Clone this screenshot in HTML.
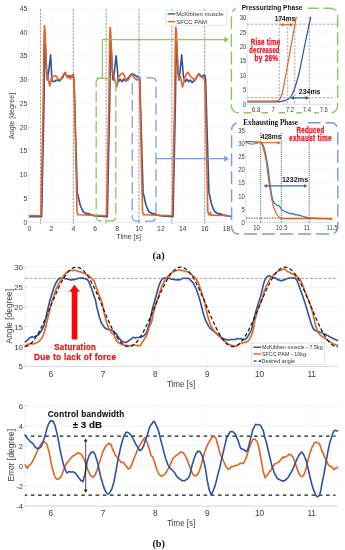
<!DOCTYPE html>
<html><head><meta charset="utf-8"><style>
html,body{margin:0;padding:0;background:#fff;}
svg{display:block;will-change:transform;}
svg{font-family:"Liberation Sans",sans-serif;}
</style></head><body>
<svg width="345" height="550" viewBox="0 0 345 550">
<rect width="345" height="550" fill="#fff"/>
<line x1="31" y1="222.3" x2="226.6" y2="222.3" stroke="#f6f6f6" stroke-width="0.6"/>
<line x1="28.8" y1="222.3" x2="31" y2="222.3" stroke="#c4c4c4" stroke-width="0.6"/>
<text x="27.3" y="224.75" font-size="6.8" fill="#3c3c3c" text-anchor="end">0</text>
<line x1="31" y1="198.53" x2="226.6" y2="198.53" stroke="#f6f6f6" stroke-width="0.6"/>
<line x1="28.8" y1="198.53" x2="31" y2="198.53" stroke="#c4c4c4" stroke-width="0.6"/>
<text x="27.3" y="200.97" font-size="6.8" fill="#3c3c3c" text-anchor="end">5</text>
<line x1="31" y1="174.75" x2="226.6" y2="174.75" stroke="#f6f6f6" stroke-width="0.6"/>
<line x1="28.8" y1="174.75" x2="31" y2="174.75" stroke="#c4c4c4" stroke-width="0.6"/>
<text x="27.3" y="177.2" font-size="6.8" fill="#3c3c3c" text-anchor="end">10</text>
<line x1="31" y1="150.98" x2="226.6" y2="150.98" stroke="#f6f6f6" stroke-width="0.6"/>
<line x1="28.8" y1="150.98" x2="31" y2="150.98" stroke="#c4c4c4" stroke-width="0.6"/>
<text x="27.3" y="153.43" font-size="6.8" fill="#3c3c3c" text-anchor="end">15</text>
<line x1="31" y1="127.2" x2="226.6" y2="127.2" stroke="#f6f6f6" stroke-width="0.6"/>
<line x1="28.8" y1="127.2" x2="31" y2="127.2" stroke="#c4c4c4" stroke-width="0.6"/>
<text x="27.3" y="129.65" font-size="6.8" fill="#3c3c3c" text-anchor="end">20</text>
<line x1="31" y1="103.43" x2="226.6" y2="103.43" stroke="#f6f6f6" stroke-width="0.6"/>
<line x1="28.8" y1="103.43" x2="31" y2="103.43" stroke="#c4c4c4" stroke-width="0.6"/>
<text x="27.3" y="105.88" font-size="6.8" fill="#3c3c3c" text-anchor="end">25</text>
<line x1="31" y1="79.65" x2="226.6" y2="79.65" stroke="#f6f6f6" stroke-width="0.6"/>
<line x1="28.8" y1="79.65" x2="31" y2="79.65" stroke="#c4c4c4" stroke-width="0.6"/>
<text x="27.3" y="82.1" font-size="6.8" fill="#3c3c3c" text-anchor="end">30</text>
<line x1="31" y1="55.88" x2="226.6" y2="55.88" stroke="#f6f6f6" stroke-width="0.6"/>
<line x1="28.8" y1="55.88" x2="31" y2="55.88" stroke="#c4c4c4" stroke-width="0.6"/>
<text x="27.3" y="58.33" font-size="6.8" fill="#3c3c3c" text-anchor="end">35</text>
<line x1="31" y1="32.1" x2="226.6" y2="32.1" stroke="#f6f6f6" stroke-width="0.6"/>
<line x1="28.8" y1="32.1" x2="31" y2="32.1" stroke="#c4c4c4" stroke-width="0.6"/>
<text x="27.3" y="34.55" font-size="6.8" fill="#3c3c3c" text-anchor="end">40</text>
<line x1="31" y1="8.33" x2="226.6" y2="8.33" stroke="#f6f6f6" stroke-width="0.6"/>
<line x1="28.8" y1="8.33" x2="31" y2="8.33" stroke="#c4c4c4" stroke-width="0.6"/>
<text x="27.3" y="10.78" font-size="6.8" fill="#3c3c3c" text-anchor="end">45</text>
<line x1="29.5" y1="8.33" x2="29.5" y2="222.3" stroke="#f6f6f6" stroke-width="0.6"/>
<text x="29.5" y="230.8" font-size="6.8" fill="#3c3c3c" text-anchor="middle">0</text>
<line x1="51.4" y1="8.33" x2="51.4" y2="222.3" stroke="#f6f6f6" stroke-width="0.6"/>
<text x="51.4" y="230.8" font-size="6.8" fill="#3c3c3c" text-anchor="middle">2</text>
<line x1="73.3" y1="8.33" x2="73.3" y2="222.3" stroke="#f6f6f6" stroke-width="0.6"/>
<text x="73.3" y="230.8" font-size="6.8" fill="#3c3c3c" text-anchor="middle">4</text>
<line x1="95.2" y1="8.33" x2="95.2" y2="222.3" stroke="#f6f6f6" stroke-width="0.6"/>
<text x="95.2" y="230.8" font-size="6.8" fill="#3c3c3c" text-anchor="middle">6</text>
<line x1="117.1" y1="8.33" x2="117.1" y2="222.3" stroke="#f6f6f6" stroke-width="0.6"/>
<text x="117.1" y="230.8" font-size="6.8" fill="#3c3c3c" text-anchor="middle">8</text>
<line x1="139" y1="8.33" x2="139" y2="222.3" stroke="#f6f6f6" stroke-width="0.6"/>
<text x="139" y="230.8" font-size="6.8" fill="#3c3c3c" text-anchor="middle">10</text>
<line x1="160.9" y1="8.33" x2="160.9" y2="222.3" stroke="#f6f6f6" stroke-width="0.6"/>
<text x="160.9" y="230.8" font-size="6.8" fill="#3c3c3c" text-anchor="middle">12</text>
<line x1="182.8" y1="8.33" x2="182.8" y2="222.3" stroke="#f6f6f6" stroke-width="0.6"/>
<text x="182.8" y="230.8" font-size="6.8" fill="#3c3c3c" text-anchor="middle">14</text>
<line x1="204.7" y1="8.33" x2="204.7" y2="222.3" stroke="#f6f6f6" stroke-width="0.6"/>
<text x="204.7" y="230.8" font-size="6.8" fill="#3c3c3c" text-anchor="middle">16</text>
<line x1="226.6" y1="8.33" x2="226.6" y2="222.3" stroke="#f6f6f6" stroke-width="0.6"/>
<text x="226.6" y="230.8" font-size="6.8" fill="#3c3c3c" text-anchor="middle">18</text>
<line x1="29.5" y1="222.3" x2="226.6" y2="222.3" stroke="#d9d9d9" stroke-width="0.6"/>
<line x1="28.6" y1="8.33" x2="28.6" y2="222.3" stroke="#e6e6e6" stroke-width="0.6"/>
<text x="116.60" y="239.20" font-family='"Liberation Sans",sans-serif' font-weight="normal" font-size="6.9" fill="#3c3c3c" textLength="24.29" lengthAdjust="spacingAndGlyphs" >Time [s]</text>
<text transform="translate(14.2,115.9) rotate(-90)" font-size="7.1" fill="#3c3c3c" text-anchor="middle">Angle [degree]</text>
<line x1="40.45" y1="8.83" x2="40.45" y2="223.8" stroke="#959595" stroke-width="0.95" stroke-dasharray="2.3 1.2"/>
<line x1="73.3" y1="8.83" x2="73.3" y2="223.8" stroke="#959595" stroke-width="0.95" stroke-dasharray="2.3 1.2"/>
<line x1="106.15" y1="8.83" x2="106.15" y2="223.8" stroke="#959595" stroke-width="0.95" stroke-dasharray="2.3 1.2"/>
<line x1="139" y1="8.83" x2="139" y2="223.8" stroke="#959595" stroke-width="0.95" stroke-dasharray="2.3 1.2"/>
<line x1="171.85" y1="8.83" x2="171.85" y2="223.8" stroke="#959595" stroke-width="0.95" stroke-dasharray="2.3 1.2"/>
<line x1="204.7" y1="8.83" x2="204.7" y2="223.8" stroke="#959595" stroke-width="0.95" stroke-dasharray="2.3 1.2"/>
<path d="M29.5 216.8 L41.65 216.8 L44.05 100 L44.75 46 L45.15 41 L46.65 72 L47.35 80 L47.7 78 L48.6 72 L50.6 54.8 L52 80.9 L54.1 81.7 L56.7 80 L59.3 80.9 L62.8 77.4 L64.9 73 L66.3 74.8 L68 76.5 L69.8 75.7 L71.5 76.5 L73.3 77.4 L74 79 L77.3 193.3 L78 195 L79 200 L80.2 205 L82 209.5 L83.5 212 L85.5 213 L87 214 L89 213.6 L91 215 L94 215.6 L99 216.3 L107.35 216.8 L109.75 100 L110.45 46 L110.85 41 L112.35 72 L113.05 80 L113.4 78 L114.3 72 L116.1 55.7 L118.4 81.7 L120.1 79.1 L121.9 81.7 L123.6 79.1 L125.3 80.9 L127.1 79.1 L128.8 77.4 L130.6 74.8 L132.3 73.9 L134 74.8 L135.8 75.7 L137.5 76.5 L139.3 77.4 L139.8 79 L143.1 193.3 L143.8 195 L144.8 200 L146 205 L147.8 209.5 L149.3 212 L151.3 213 L152.8 214 L154.8 213.6 L156.8 215 L159.8 215.6 L164.8 216.3 L173.05 216.8 L175.45 100 L176.15 46 L176.55 41 L178.05 72 L178.75 80 L179.1 78 L180 72 L181.7 54.8 L183.4 76.5 L185.1 81.7 L186.9 79.1 L188.6 81.7 L190.3 80 L192.1 82.6 L193.8 80.9 L195.6 79.1 L197.3 75.7 L199 73.9 L200.8 75.7 L202.5 76.5 L204.3 74.8 L205.1 76.5 L205.6 79 L208.9 193.3 L209.6 195 L210.6 200 L211.8 205 L213.6 209.5 L215.1 212 L217.1 213 L218.6 214 L220.6 213.6 L222.6 215 L225.6 215.6 L226.6 215.8 L230.6 216.3" fill="none" stroke="#2c52a0" stroke-width="1.6" stroke-linejoin="round" stroke-linecap="round" />
<path d="M29.5 215.6 L40.9 215.8 L43.2 100 L43.95 39.8 L44.45 25.8 L45.05 31.8 L46.45 68 L47.5 76.5 L49.8 86 L51.5 77.4 L55 75.7 L56.7 76.5 L58.5 80 L61 79 L62.8 75.7 L65.4 72.2 L67.2 77.4 L69 77.4 L70.7 79 L72.4 74.8 L73.6 74.5 L74.2 84 L77 211.5 L77.9 214.6 L79.1 214.8 L106.6 215.8 L108.9 100 L109.65 41.4 L110.15 27.4 L110.75 33.4 L112.15 68 L114 77.4 L116.7 87 L118.4 77.4 L121 73.9 L122.7 73 L124.5 75.7 L126.2 80.9 L128 80 L129.7 77.4 L131.4 73.9 L133.2 76.5 L134.9 78.3 L136.7 80 L138.4 79.1 L139.1 78 L139.7 84 L142.5 211.5 L143.4 214.6 L144.6 214.8 L172.3 215.8 L174.6 100 L175.35 41.2 L175.85 27.2 L176.45 33.2 L177.85 68 L179 80 L180.3 76.5 L182.5 87 L185.1 76.5 L187.7 72.2 L189.5 74.8 L191.2 77.4 L193 78.3 L194.7 80.9 L196.4 77.4 L198.2 74.8 L199.9 75.7 L201.7 77.4 L203.4 78.3 L204.4 79 L205 84 L207.8 211.5 L208.7 214.6 L209.9 214.8 L210.4 212.3 L211 215.2 L226.6 215.4" fill="none" stroke="#e2621f" stroke-width="1.6" stroke-linejoin="round" stroke-linecap="round" />
<rect x="165.7" y="10.3" width="61" height="15.3" fill="#fff" stroke="#d9d9d9" stroke-width="0.6"/>
<line x1="167.6" y1="13.9" x2="175.3" y2="13.9" stroke="#2c52a0" stroke-width="1.4"/>
<line x1="167.6" y1="21.6" x2="175.3" y2="21.6" stroke="#e2621f" stroke-width="1.4"/>
<text x="176.30" y="16.30" font-family='"Liberation Sans",sans-serif' font-weight="normal" font-size="6.2" fill="#303030" textLength="47.21" lengthAdjust="spacingAndGlyphs" >McKibben muscle</text>
<text x="176.30" y="24.40" font-family='"Liberation Sans",sans-serif' font-weight="normal" font-size="6.2" fill="#303030" textLength="30.69" lengthAdjust="spacingAndGlyphs" >SFCC PAM</text>
<path d="M96.3 78.2 L102.4 78.2 L102.4 39.6 L226 39.6" fill="none" stroke="#8cc46c" stroke-width="1.2"/>
<path d="M224.3 36.4 L228.8 39.6 L224.3 42.8 Z" fill="#8cc46c"/>
<rect x="96.2" y="78.4" width="19.6" height="142.4" rx="3.5" fill="none" stroke="#8cc46c" stroke-width="1.25" stroke-dasharray="11.5 3.8" stroke-dashoffset="14.3"/>
<rect x="132.2" y="77.9" width="23.8" height="143.1" rx="4" fill="none" stroke="#7b9bd4" stroke-width="1.25" stroke-dasharray="11.5 5" stroke-dashoffset="6.3"/>
<path d="M156 158.7 L226 158.7" fill="none" stroke="#7b9bd4" stroke-width="1.2"/>
<path d="M224.3 155.6 L228.8 158.7 L224.3 161.8 Z" fill="#7b9bd4"/>
<rect x="231.4" y="8.3" width="106.2" height="104.5" rx="7" fill="none" stroke="#8cc46c" stroke-width="1.4" stroke-dasharray="13 4.6" stroke-dashoffset="3"/>
<rect x="236" y="3" width="72" height="9" fill="#fff"/>
<text x="241.70" y="10.40" font-family='"Liberation Sans",sans-serif' font-weight="bold" font-size="7.0" fill="#141414" textLength="60.81" lengthAdjust="spacingAndGlyphs" >Pressurizing Phase</text>
<line x1="247.2" y1="104.35" x2="331.5" y2="104.35" stroke="#f0f0f0" stroke-width="0.5"/>
<text x="243.02" y="106.75" font-size="6.7" fill="#3c3c3c" textLength="3.28" lengthAdjust="spacingAndGlyphs">0</text>
<line x1="247.2" y1="89.9" x2="331.5" y2="89.9" stroke="#f0f0f0" stroke-width="0.5"/>
<text x="243.02" y="92.30" font-size="6.7" fill="#3c3c3c" textLength="3.28" lengthAdjust="spacingAndGlyphs">5</text>
<line x1="247.2" y1="75.45" x2="331.5" y2="75.45" stroke="#f0f0f0" stroke-width="0.5"/>
<text x="239.74" y="77.85" font-size="6.7" fill="#3c3c3c" textLength="6.56" lengthAdjust="spacingAndGlyphs">10</text>
<line x1="247.2" y1="61" x2="331.5" y2="61" stroke="#f0f0f0" stroke-width="0.5"/>
<text x="239.74" y="63.40" font-size="6.7" fill="#3c3c3c" textLength="6.56" lengthAdjust="spacingAndGlyphs">15</text>
<line x1="247.2" y1="46.55" x2="331.5" y2="46.55" stroke="#f0f0f0" stroke-width="0.5"/>
<text x="239.74" y="48.95" font-size="6.7" fill="#3c3c3c" textLength="6.56" lengthAdjust="spacingAndGlyphs">20</text>
<line x1="247.2" y1="32.1" x2="331.5" y2="32.1" stroke="#f0f0f0" stroke-width="0.5"/>
<text x="239.74" y="34.50" font-size="6.7" fill="#3c3c3c" textLength="6.56" lengthAdjust="spacingAndGlyphs">25</text>
<line x1="247.2" y1="17.65" x2="331.5" y2="17.65" stroke="#f0f0f0" stroke-width="0.5"/>
<text x="239.74" y="20.05" font-size="6.7" fill="#3c3c3c" textLength="6.56" lengthAdjust="spacingAndGlyphs">30</text>
<rect x="251.2" y="106.2" width="10" height="8" fill="#fff"/>
<text x="252.10" y="112.40" font-size="6.7" fill="#3c3c3c" textLength="8.20" lengthAdjust="spacingAndGlyphs">6.8</text>
<rect x="268.1" y="106.2" width="10" height="8" fill="#fff"/>
<text x="271.46" y="112.40" font-size="6.7" fill="#3c3c3c" textLength="3.28" lengthAdjust="spacingAndGlyphs">7</text>
<rect x="285" y="106.2" width="10" height="8" fill="#fff"/>
<text x="285.90" y="112.40" font-size="6.7" fill="#3c3c3c" textLength="8.20" lengthAdjust="spacingAndGlyphs">7.2</text>
<rect x="301.9" y="106.2" width="10" height="8" fill="#fff"/>
<text x="302.80" y="112.40" font-size="6.7" fill="#3c3c3c" textLength="8.20" lengthAdjust="spacingAndGlyphs">7.4</text>
<rect x="318.8" y="106.2" width="10" height="8" fill="#fff"/>
<text x="319.70" y="112.40" font-size="6.7" fill="#3c3c3c" textLength="8.20" lengthAdjust="spacingAndGlyphs">7.6</text>
<line x1="247.2" y1="104.2" x2="331.5" y2="104.2" stroke="#c8c8c8" stroke-width="0.6"/>
<line x1="247.2" y1="15" x2="247.2" y2="104.2" stroke="#d0d0d0" stroke-width="0.6"/>
<line x1="279.2" y1="17" x2="279.2" y2="104.2" stroke="#8a8a8a" stroke-width="0.8" stroke-dasharray="2 1.5"/>
<line x1="287.7" y1="17" x2="287.7" y2="104.2" stroke="#8a8a8a" stroke-width="0.8" stroke-dasharray="2 1.5"/>
<line x1="294.8" y1="17" x2="294.8" y2="104.2" stroke="#8a8a8a" stroke-width="0.8" stroke-dasharray="2 1.5"/>
<line x1="309.3" y1="17" x2="309.3" y2="104.2" stroke="#8a8a8a" stroke-width="0.8" stroke-dasharray="2 1.5"/>
<line x1="247.2" y1="24.2" x2="337" y2="24.2" stroke="#8a8a8a" stroke-width="0.8" stroke-dasharray="2.4 1.6"/>
<line x1="247.2" y1="97.7" x2="333" y2="97.7" stroke="#8a8a8a" stroke-width="0.8" stroke-dasharray="2.4 1.6"/>
<path d="M247.6 101.8 C249.67 101.82 255.93 101.88 260 101.9 C264.07 101.92 268.67 101.95 272 101.9 C275.33 101.85 278 101.78 280 101.6 C282 101.42 282.67 101.18 284 100.8 C285.33 100.42 286.83 100.02 288 99.3 C289.17 98.58 290 98.05 291 96.5 C292 94.95 293 92.58 294 90 C295 87.42 296.03 84.33 297 81 C297.97 77.67 298.47 76.17 299.8 70 C301.13 63.83 303.18 52.77 305 44 C306.82 35.23 309.75 21.83 310.7 17.4" fill="none" stroke="#2c52a0" stroke-width="1.2" stroke-linejoin="round" stroke-linecap="round" />
<path d="M247.6 101 C249.67 101.02 256.27 101.07 260 101.1 C263.73 101.13 267.33 101.23 270 101.2 C272.67 101.17 274.58 101.07 276 100.9 C277.42 100.73 277.75 100.68 278.5 100.2 C279.25 99.72 279.83 99.37 280.5 98 C281.17 96.63 281.83 94.67 282.5 92 C283.17 89.33 283.8 85.67 284.5 82 C285.2 78.33 285.52 76.5 286.7 70 C287.88 63.5 290.02 51.77 291.6 43 C293.18 34.23 295.43 21.67 296.2 17.4" fill="none" stroke="#e2621f" stroke-width="1.2" stroke-linejoin="round" stroke-linecap="round" />
<line x1="282" y1="24.8" x2="291.5" y2="24.8" stroke="#e2621f" stroke-width="1.1"/>
<path d="M279.8 24.8 L283.4 23 L283.4 26.6 Z M293.6 24.8 L290 23 L290 26.6 Z" fill="#e2621f"/>
<text x="274.80" y="20.80" font-family='"Liberation Sans",sans-serif' font-weight="bold" font-size="7.0" fill="#141414" textLength="20.39" lengthAdjust="spacingAndGlyphs" >174ms</text>
<line x1="292.5" y1="97.9" x2="307" y2="97.9" stroke="#2c52a0" stroke-width="1.1"/>
<path d="M290.3 97.9 L293.9 96.1 L293.9 99.7 Z M309.2 97.9 L305.6 96.1 L305.6 99.7 Z" fill="#2c52a0"/>
<text x="298.80" y="93.80" font-family='"Liberation Sans",sans-serif' font-weight="bold" font-size="7.0" fill="#141414" textLength="21.69" lengthAdjust="spacingAndGlyphs" >234ms</text>
<text transform="translate(250.70,44.90) scale(0.7375,1)" x="0" y="0" font-family='"Liberation Sans",sans-serif' font-weight="bold" font-size="8.4" letter-spacing="0.350" fill="#e31b23" stroke="#e31b23" stroke-width="0.3">Rise time</text>
<text transform="translate(249.30,53.30) scale(0.676,1)" x="0" y="0" font-family='"Liberation Sans",sans-serif' font-weight="bold" font-size="8.4" letter-spacing="0.350" fill="#e31b23" stroke="#e31b23" stroke-width="0.3">decreased</text>
<text transform="translate(254.60,61.00) scale(0.7625,1)" x="0" y="0" font-family='"Liberation Sans",sans-serif' font-weight="bold" font-size="8.4" letter-spacing="0.350" fill="#e31b23" stroke="#e31b23" stroke-width="0.3">by 26%</text>
<rect x="231.6" y="122.8" width="106.2" height="111.2" rx="7" fill="none" stroke="#7b9bd4" stroke-width="1.4" stroke-dasharray="13 5" stroke-dashoffset="3"/>
<rect x="236.5" y="117" width="71.5" height="9.5" fill="#fff"/>
<text x="243.30" y="124.50" font-family='"Liberation Serif",serif' font-weight="bold" font-size="7.6" fill="#141414" textLength="54.60" lengthAdjust="spacingAndGlyphs" >Exhausting Phase</text>
<line x1="245.9" y1="222.6" x2="331.8" y2="222.6" stroke="#f0f0f0" stroke-width="0.5"/>
<text x="241.62" y="225.00" font-size="6.7" fill="#3c3c3c" textLength="3.28" lengthAdjust="spacingAndGlyphs">0</text>
<line x1="245.9" y1="209.43" x2="331.8" y2="209.43" stroke="#f0f0f0" stroke-width="0.5"/>
<text x="241.62" y="211.83" font-size="6.7" fill="#3c3c3c" textLength="3.28" lengthAdjust="spacingAndGlyphs">5</text>
<line x1="245.9" y1="196.26" x2="331.8" y2="196.26" stroke="#f0f0f0" stroke-width="0.5"/>
<text x="238.34" y="198.66" font-size="6.7" fill="#3c3c3c" textLength="6.56" lengthAdjust="spacingAndGlyphs">10</text>
<line x1="245.9" y1="183.09" x2="331.8" y2="183.09" stroke="#f0f0f0" stroke-width="0.5"/>
<text x="238.34" y="185.49" font-size="6.7" fill="#3c3c3c" textLength="6.56" lengthAdjust="spacingAndGlyphs">15</text>
<line x1="245.9" y1="169.92" x2="331.8" y2="169.92" stroke="#f0f0f0" stroke-width="0.5"/>
<text x="238.34" y="172.32" font-size="6.7" fill="#3c3c3c" textLength="6.56" lengthAdjust="spacingAndGlyphs">20</text>
<line x1="245.9" y1="156.75" x2="331.8" y2="156.75" stroke="#f0f0f0" stroke-width="0.5"/>
<text x="238.34" y="159.15" font-size="6.7" fill="#3c3c3c" textLength="6.56" lengthAdjust="spacingAndGlyphs">25</text>
<line x1="245.9" y1="143.58" x2="331.8" y2="143.58" stroke="#f0f0f0" stroke-width="0.5"/>
<text x="238.34" y="145.98" font-size="6.7" fill="#3c3c3c" textLength="6.56" lengthAdjust="spacingAndGlyphs">30</text>
<line x1="245.9" y1="130.41" x2="331.8" y2="130.41" stroke="#f0f0f0" stroke-width="0.5"/>
<text x="238.34" y="132.81" font-size="6.7" fill="#3c3c3c" textLength="6.56" lengthAdjust="spacingAndGlyphs">35</text>
<text x="253.22" y="230.40" font-size="6.7" fill="#3c3c3c" textLength="6.56" lengthAdjust="spacingAndGlyphs">10</text>
<text x="275.96" y="230.40" font-size="6.7" fill="#3c3c3c" textLength="11.48" lengthAdjust="spacingAndGlyphs">10.5</text>
<text x="303.84" y="230.40" font-size="6.7" fill="#3c3c3c" textLength="6.12" lengthAdjust="spacingAndGlyphs">11</text>
<text x="326.58" y="230.40" font-size="6.7" fill="#3c3c3c" textLength="11.05" lengthAdjust="spacingAndGlyphs">11.5</text>
<line x1="245.9" y1="222.4" x2="331.8" y2="222.4" stroke="#c8c8c8" stroke-width="0.6"/>
<line x1="245.9" y1="128" x2="245.9" y2="222.4" stroke="#d0d0d0" stroke-width="0.6"/>
<line x1="260.7" y1="133" x2="260.7" y2="223.5" stroke="#222" stroke-width="0.8" stroke-dasharray="1 1.1"/>
<line x1="281.3" y1="133" x2="281.3" y2="223.5" stroke="#222" stroke-width="0.8" stroke-dasharray="1 1.1"/>
<line x1="309.2" y1="133" x2="309.2" y2="223.5" stroke="#222" stroke-width="0.8" stroke-dasharray="1 1.1"/>
<line x1="245.9" y1="218.1" x2="331" y2="218.1" stroke="#222" stroke-width="0.8" stroke-dasharray="1.4 1.2"/>
<path d="M245.9 141.6 C246.92 141.6 249.98 141.5 252 141.6 C254.02 141.7 256.55 142.07 258 142.2 C259.45 142.33 259.87 141.93 260.7 142.4 C261.53 142.87 262.28 143.52 263 145 C263.72 146.48 264.42 148.97 265 151.3 C265.58 153.63 266 156.27 266.5 159 C267 161.73 267.42 163.53 268 167.7 C268.58 171.87 269.33 179.12 270 184 C270.67 188.88 271.42 194.08 272 197 C272.58 199.92 273 200.4 273.5 201.5 C274 202.6 274.42 202.93 275 203.6 C275.58 204.27 276.42 205.18 277 205.5 C277.58 205.82 278 205.27 278.5 205.5 C279 205.73 279.5 206.28 280 206.9 C280.5 207.52 281 208.6 281.5 209.2 C282 209.8 282.08 209.98 283 210.5 C283.92 211.02 285.83 211.82 287 212.3 C288.17 212.78 288.67 213.03 290 213.4 C291.33 213.77 293.33 214.15 295 214.5 C296.67 214.85 298.33 215.08 300 215.5 C301.67 215.92 303.33 216.58 305 217 C306.67 217.42 307.5 217.75 310 218 C312.5 218.25 316.37 218.33 320 218.5 C323.63 218.67 329.83 218.92 331.8 219" fill="none" stroke="#1f7ccc" stroke-width="1.3" stroke-linejoin="round" stroke-linecap="round" />
<path d="M245.9 142.6 C246.42 142.77 247.98 143.33 249 143.6 C250.02 143.87 250.83 144.22 252 144.2 C253.17 144.18 254.75 143.82 256 143.5 C257.25 143.18 258.58 142.3 259.5 142.3 C260.42 142.3 260.92 142.72 261.5 143.5 C262.08 144.28 262.5 145.42 263 147 C263.5 148.58 264 150.83 264.5 153 C265 155.17 265.42 156.33 266 160 C266.58 163.67 267.33 170.17 268 175 C268.67 179.83 269.5 185.67 270 189 C270.5 192.33 270.5 192.33 271 195 C271.5 197.67 272.42 202.58 273 205 C273.58 207.42 274 208.17 274.5 209.5 C275 210.83 275.42 211.92 276 213 C276.58 214.08 277.42 215.25 278 216 C278.58 216.75 279 217.08 279.5 217.5 C280 217.92 279.25 218.32 281 218.5 C282.75 218.68 281.53 218.58 290 218.6 C298.47 218.62 324.83 218.6 331.8 218.6" fill="none" stroke="#e2621f" stroke-width="1.2" stroke-linejoin="round" stroke-linecap="round" />
<line x1="262" y1="142.7" x2="278.5" y2="142.7" stroke="#e2621f" stroke-width="1.1"/>
<path d="M281 142.7 L277.4 140.9 L277.4 144.5 Z" fill="#e2621f"/>
<text x="260.70" y="138.50" font-family='"Liberation Sans",sans-serif' font-weight="bold" font-size="7.0" fill="#141414" textLength="20.79" lengthAdjust="spacingAndGlyphs" >428ms</text>
<line x1="265.5" y1="185.9" x2="305.5" y2="185.9" stroke="#3a68b8" stroke-width="1.2"/>
<path d="M263.3 185.9 L266.9 184.1 L266.9 187.7 Z M307.6 185.9 L304 184.1 L304 187.7 Z" fill="#3a68b8"/>
<text x="281.90" y="182.00" font-family='"Liberation Sans",sans-serif' font-weight="bold" font-size="7.0" fill="#141414" textLength="26.30" lengthAdjust="spacingAndGlyphs" >1232ms</text>
<text transform="translate(296.60,132.90) scale(0.7369,1)" x="0" y="0" font-family='"Liberation Sans",sans-serif' font-weight="bold" font-size="8.4" letter-spacing="0.350" fill="#e31b23" stroke="#e31b23" stroke-width="0.3">Reduced</text>
<text transform="translate(289.00,141.20) scale(0.7751,1)" x="0" y="0" font-family='"Liberation Sans",sans-serif' font-weight="bold" font-size="8.4" letter-spacing="0.350" fill="#e31b23" stroke="#e31b23" stroke-width="0.3">exhaust time</text>
<text x="152.50" y="259.20" font-family='"Liberation Serif",serif' font-weight="bold" font-size="10" fill="#141414" textLength="12.11" lengthAdjust="spacingAndGlyphs" >(a)</text>
<line x1="24.82" y1="366.4" x2="337.78" y2="366.4" stroke="#ebebeb" stroke-width="0.6"/>
<line x1="24.82" y1="366.4" x2="27.22" y2="366.4" stroke="#bfbfbf" stroke-width="0.6"/>
<text x="23" y="369.4" font-size="7.9" fill="#3c3c3c" text-anchor="end">5</text>
<line x1="24.82" y1="346.54" x2="337.78" y2="346.54" stroke="#ebebeb" stroke-width="0.6"/>
<line x1="24.82" y1="346.54" x2="27.22" y2="346.54" stroke="#bfbfbf" stroke-width="0.6"/>
<text x="23" y="349.54" font-size="7.9" fill="#3c3c3c" text-anchor="end">10</text>
<line x1="24.82" y1="326.68" x2="337.78" y2="326.68" stroke="#ebebeb" stroke-width="0.6"/>
<line x1="24.82" y1="326.68" x2="27.22" y2="326.68" stroke="#bfbfbf" stroke-width="0.6"/>
<text x="23" y="329.68" font-size="7.9" fill="#3c3c3c" text-anchor="end">15</text>
<line x1="24.82" y1="306.82" x2="337.78" y2="306.82" stroke="#ebebeb" stroke-width="0.6"/>
<line x1="24.82" y1="306.82" x2="27.22" y2="306.82" stroke="#bfbfbf" stroke-width="0.6"/>
<text x="23" y="309.82" font-size="7.9" fill="#3c3c3c" text-anchor="end">20</text>
<line x1="24.82" y1="286.96" x2="337.78" y2="286.96" stroke="#ebebeb" stroke-width="0.6"/>
<line x1="24.82" y1="286.96" x2="27.22" y2="286.96" stroke="#bfbfbf" stroke-width="0.6"/>
<text x="23" y="289.96" font-size="7.9" fill="#3c3c3c" text-anchor="end">25</text>
<line x1="24.82" y1="267.1" x2="337.78" y2="267.1" stroke="#ebebeb" stroke-width="0.6"/>
<line x1="24.82" y1="267.1" x2="27.22" y2="267.1" stroke="#bfbfbf" stroke-width="0.6"/>
<text x="23" y="270.1" font-size="7.9" fill="#3c3c3c" text-anchor="end">30</text>
<line x1="50.9" y1="267.1" x2="50.9" y2="366.4" stroke="#f3f3f3" stroke-width="0.6"/>
<line x1="50.9" y1="366.4" x2="50.9" y2="368.4" stroke="#d8d8d8" stroke-width="0.6"/>
<text x="50.9" y="376.6" font-size="8.3" fill="#3c3c3c" text-anchor="middle">6</text>
<line x1="103.06" y1="267.1" x2="103.06" y2="366.4" stroke="#f3f3f3" stroke-width="0.6"/>
<line x1="103.06" y1="366.4" x2="103.06" y2="368.4" stroke="#d8d8d8" stroke-width="0.6"/>
<text x="103.06" y="376.6" font-size="8.3" fill="#3c3c3c" text-anchor="middle">7</text>
<line x1="155.22" y1="267.1" x2="155.22" y2="366.4" stroke="#f3f3f3" stroke-width="0.6"/>
<line x1="155.22" y1="366.4" x2="155.22" y2="368.4" stroke="#d8d8d8" stroke-width="0.6"/>
<text x="155.22" y="376.6" font-size="8.3" fill="#3c3c3c" text-anchor="middle">8</text>
<line x1="207.38" y1="267.1" x2="207.38" y2="366.4" stroke="#f3f3f3" stroke-width="0.6"/>
<line x1="207.38" y1="366.4" x2="207.38" y2="368.4" stroke="#d8d8d8" stroke-width="0.6"/>
<text x="207.38" y="376.6" font-size="8.3" fill="#3c3c3c" text-anchor="middle">9</text>
<line x1="259.54" y1="267.1" x2="259.54" y2="366.4" stroke="#f3f3f3" stroke-width="0.6"/>
<line x1="259.54" y1="366.4" x2="259.54" y2="368.4" stroke="#d8d8d8" stroke-width="0.6"/>
<text x="259.54" y="376.6" font-size="8.3" fill="#3c3c3c" text-anchor="middle">10</text>
<line x1="311.7" y1="267.1" x2="311.7" y2="366.4" stroke="#f3f3f3" stroke-width="0.6"/>
<line x1="311.7" y1="366.4" x2="311.7" y2="368.4" stroke="#d8d8d8" stroke-width="0.6"/>
<text x="311.7" y="376.6" font-size="8.3" fill="#3c3c3c" text-anchor="middle">11</text>
<line x1="24.82" y1="267.1" x2="24.82" y2="366.4" stroke="#e0e0e0" stroke-width="0.6"/>
<line x1="24.82" y1="366.4" x2="337.78" y2="366.4" stroke="#d0d0d0" stroke-width="0.7"/>
<text x="166.90" y="386.80" font-family='"Liberation Sans",sans-serif' font-weight="normal" font-size="8.6" fill="#3c3c3c" textLength="28.29" lengthAdjust="spacingAndGlyphs" >Time [s]</text>
<text transform="translate(12.0,316.2) rotate(-90)" font-size="8.4" fill="#3c3c3c" text-anchor="middle">Angle [degree]</text>
<line x1="24.82" y1="278.4" x2="337.78" y2="278.4" stroke="#9a9a9a" stroke-width="0.9" stroke-dasharray="3 1.6"/>
<path d="M25.2 341.81 C25.5 341.6 26.53 340.87 27 340.53 C27.47 340.18 27.67 340.09 28 339.74 C28.33 339.39 28.67 338.77 29 338.42 C29.33 338.07 29.67 337.83 30 337.62 C30.33 337.4 30.67 337.31 31 337.13 C31.33 336.96 31.67 336.59 32 336.58 C32.33 336.57 32.67 336.97 33 337.05 C33.33 337.14 33.67 337.14 34 337.07 C34.33 337 34.67 336.83 35 336.62 C35.33 336.4 35.67 335.98 36 335.78 C36.33 335.59 36.67 335.53 37 335.45 C37.33 335.36 37.67 335.45 38 335.26 C38.33 335.07 38.67 334.72 39 334.31 C39.33 333.91 39.67 333.31 40 332.81 C40.33 332.31 40.67 331.79 41 331.31 C41.33 330.84 41.67 330.55 42 329.96 C42.33 329.37 42.67 328.56 43 327.77 C43.33 326.99 43.67 326.32 44 325.24 C44.33 324.16 44.67 322.55 45 321.3 C45.33 320.05 45.67 319.18 46 317.74 C46.33 316.29 46.67 314.18 47 312.62 C47.33 311.06 47.67 309.78 48 308.38 C48.33 306.98 48.67 305.59 49 304.24 C49.33 302.9 49.67 301.55 50 300.32 C50.33 299.09 50.67 298 51 296.86 C51.33 295.72 51.67 294.54 52 293.5 C52.33 292.47 52.67 291.7 53 290.66 C53.33 289.61 53.67 288.16 54 287.24 C54.33 286.32 54.67 285.87 55 285.14 C55.33 284.41 55.67 283.53 56 282.87 C56.33 282.21 56.67 281.71 57 281.19 C57.33 280.66 57.67 280.13 58 279.72 C58.33 279.31 58.67 279.02 59 278.73 C59.33 278.44 59.67 278.09 60 277.98 C60.33 277.87 60.67 278 61 278.05 C61.33 278.1 61.67 278.27 62 278.29 C62.33 278.31 62.67 278.16 63 278.16 C63.33 278.17 63.67 278.23 64 278.31 C64.33 278.39 64.67 278.56 65 278.64 C65.33 278.72 65.67 278.73 66 278.78 C66.33 278.82 66.67 278.8 67 278.9 C67.33 278.99 67.67 279.25 68 279.35 C68.33 279.45 68.67 279.46 69 279.5 C69.33 279.54 69.67 279.48 70 279.57 C70.33 279.66 70.67 280 71 280.04 C71.33 280.08 71.67 279.85 72 279.81 C72.33 279.77 72.67 279.82 73 279.79 C73.33 279.75 73.67 279.7 74 279.61 C74.33 279.53 74.67 279.34 75 279.29 C75.33 279.25 75.67 279.45 76 279.34 C76.33 279.23 76.67 278.76 77 278.61 C77.33 278.46 77.67 278.51 78 278.46 C78.33 278.41 78.67 278.42 79 278.33 C79.33 278.24 79.67 277.98 80 277.93 C80.33 277.87 80.67 278 81 277.99 C81.33 277.99 81.67 277.82 82 277.87 C82.33 277.92 82.67 278.18 83 278.28 C83.33 278.39 83.67 278.44 84 278.48 C84.33 278.52 84.67 278.43 85 278.54 C85.33 278.65 85.67 279.01 86 279.14 C86.33 279.27 86.58 278.96 87 279.31 C87.42 279.65 88 280.31 88.5 281.2 C89 282.09 89.58 283.64 90 284.65 C90.42 285.65 90.67 286.38 91 287.24 C91.33 288.1 91.67 288.84 92 289.78 C92.33 290.72 92.67 291.86 93 292.87 C93.33 293.88 93.58 294.59 94 295.82 C94.42 297.06 95 298.28 95.5 300.29 C96 302.3 96.58 305.99 97 307.88 C97.42 309.77 97.67 310.28 98 311.63 C98.33 312.98 98.67 314.79 99 316 C99.33 317.21 99.67 317.88 100 318.87 C100.33 319.86 100.67 321.12 101 321.95 C101.33 322.78 101.67 323.25 102 323.86 C102.33 324.47 102.67 325.1 103 325.59 C103.33 326.08 103.67 326.38 104 326.79 C104.33 327.21 104.67 327.82 105 328.08 C105.33 328.35 105.67 328.18 106 328.36 C106.33 328.54 106.67 329.02 107 329.18 C107.33 329.34 107.67 329.26 108 329.33 C108.33 329.41 108.67 329.57 109 329.61 C109.33 329.65 109.67 329.53 110 329.58 C110.33 329.63 110.67 329.83 111 329.93 C111.33 330.04 111.67 330.06 112 330.21 C112.33 330.37 112.67 330.61 113 330.87 C113.33 331.14 113.67 331.46 114 331.8 C114.33 332.13 114.67 332.58 115 332.89 C115.33 333.19 115.67 333.29 116 333.64 C116.33 333.99 116.67 334.5 117 334.97 C117.33 335.45 117.67 335.96 118 336.47 C118.33 336.99 118.67 337.64 119 338.09 C119.33 338.55 119.67 338.83 120 339.21 C120.33 339.59 120.67 340.09 121 340.38 C121.33 340.68 121.67 340.73 122 340.99 C122.33 341.25 122.67 341.78 123 341.96 C123.33 342.14 123.67 341.99 124 342.08 C124.33 342.17 124.67 342.44 125 342.49 C125.33 342.54 125.67 342.49 126 342.38 C126.33 342.27 126.67 342.02 127 341.83 C127.33 341.64 127.67 341.43 128 341.24 C128.33 341.04 128.67 340.9 129 340.67 C129.33 340.43 129.67 340.08 130 339.82 C130.33 339.55 130.67 339.33 131 339.09 C131.33 338.86 131.67 338.66 132 338.39 C132.33 338.13 132.66 337.63 133 337.48 C133.34 337.33 133.7 337.44 134.05 337.5 C134.4 337.57 134.73 337.84 135.1 337.86 C135.47 337.88 135.88 337.69 136.27 337.63 C136.66 337.58 137.04 337.55 137.43 337.53 C137.82 337.52 138.22 337.58 138.6 337.53 C138.98 337.47 139.36 337.3 139.73 337.2 C140.11 337.09 140.49 336.98 140.87 336.91 C141.24 336.84 141.6 336.9 142 336.76 C142.4 336.62 142.83 336.37 143.25 336.09 C143.67 335.81 144.12 335.41 144.5 335.08 C144.88 334.75 145.17 334.51 145.5 334.1 C145.83 333.69 146.08 333.63 146.5 332.64 C146.92 331.65 147.47 329.85 148 328.19 C148.53 326.52 149.2 324.69 149.7 322.65 C150.2 320.61 150.58 318.06 151 315.95 C151.42 313.83 151.7 312.06 152.2 309.95 C152.7 307.84 153.42 305.37 154 303.3 C154.58 301.24 155.1 299.74 155.7 297.57 C156.3 295.4 157.03 292.33 157.6 290.28 C158.17 288.23 158.65 286.6 159.1 285.28 C159.55 283.96 159.85 283.3 160.3 282.35 C160.75 281.41 161.27 280.32 161.8 279.63 C162.33 278.94 163.01 278.49 163.5 278.22 C163.99 277.95 164.33 278.07 164.75 278.03 C165.17 277.98 165.62 277.94 166 277.95 C166.38 277.96 166.67 278.06 167 278.09 C167.33 278.12 167.67 278.09 168 278.13 C168.33 278.17 168.67 278.28 169 278.33 C169.33 278.38 169.67 278.3 170 278.43 C170.33 278.56 170.67 278.98 171 279.12 C171.33 279.26 171.67 279.24 172 279.26 C172.33 279.27 172.67 279.19 173 279.22 C173.33 279.26 173.67 279.39 174 279.48 C174.33 279.56 174.6 279.66 175 279.72 C175.4 279.78 175.93 279.82 176.4 279.83 C176.87 279.85 177.38 279.8 177.8 279.81 C178.22 279.82 178.53 279.9 178.9 279.87 C179.27 279.85 179.65 279.77 180 279.65 C180.35 279.52 180.67 279.25 181 279.12 C181.33 278.99 181.67 278.98 182 278.86 C182.33 278.74 182.67 278.49 183 278.39 C183.33 278.3 183.67 278.31 184 278.3 C184.33 278.29 184.67 278.34 185 278.32 C185.33 278.3 185.67 278.14 186 278.18 C186.33 278.22 186.67 278.54 187 278.56 C187.33 278.59 187.67 278.36 188 278.33 C188.33 278.3 188.67 278.11 189 278.36 C189.33 278.61 189.67 279.45 190 279.83 C190.33 280.2 190.64 280.28 191 280.61 C191.36 280.95 191.77 281.36 192.15 281.82 C192.53 282.29 192.88 282.76 193.3 283.42 C193.73 284.09 194.23 284.93 194.7 285.81 C195.17 286.7 195.67 287.67 196.1 288.71 C196.53 289.76 196.87 291.01 197.25 292.09 C197.63 293.17 198.04 294.1 198.4 295.18 C198.76 296.27 199.07 297.48 199.4 298.6 C199.73 299.71 200.07 300.65 200.4 301.88 C200.73 303.11 201.07 304.64 201.4 305.98 C201.73 307.33 202.07 308.65 202.4 309.93 C202.73 311.22 203.07 312.51 203.4 313.69 C203.73 314.87 204.07 316.01 204.4 317.02 C204.73 318.03 205.07 318.89 205.4 319.74 C205.73 320.59 206.07 321.44 206.4 322.11 C206.73 322.79 207.07 323.19 207.4 323.81 C207.73 324.44 207.95 325.12 208.4 325.86 C208.85 326.59 209.62 327.66 210.1 328.24 C210.58 328.83 210.82 328.99 211.3 329.38 C211.78 329.76 212.55 330.21 213 330.55 C213.45 330.89 213.67 331.13 214 331.41 C214.33 331.69 214.67 331.99 215 332.22 C215.33 332.45 215.67 332.55 216 332.81 C216.33 333.08 216.67 333.51 217 333.81 C217.33 334.11 217.67 334.37 218 334.63 C218.33 334.89 218.67 335.1 219 335.36 C219.33 335.63 219.67 335.91 220 336.21 C220.33 336.52 220.67 336.93 221 337.19 C221.33 337.45 221.67 337.55 222 337.78 C222.33 338.01 222.67 338.39 223 338.6 C223.33 338.8 223.67 338.95 224 339.03 C224.33 339.11 224.67 338.98 225 339.07 C225.33 339.16 225.67 339.44 226 339.57 C226.33 339.7 226.67 339.77 227 339.84 C227.33 339.92 227.67 340.01 228 340.03 C228.33 340.04 228.67 339.99 229 339.93 C229.33 339.87 229.67 339.74 230 339.66 C230.33 339.58 230.67 339.5 231 339.46 C231.33 339.43 231.67 339.45 232 339.45 C232.33 339.45 232.67 339.44 233 339.45 C233.33 339.46 233.67 339.5 234 339.51 C234.33 339.52 234.67 339.56 235 339.5 C235.33 339.44 235.67 339.31 236 339.17 C236.33 339.04 236.67 338.81 237 338.69 C237.33 338.57 237.62 338.47 238 338.48 C238.38 338.49 238.84 338.73 239.27 338.75 C239.69 338.77 240.11 338.54 240.53 338.59 C240.96 338.65 241.4 338.93 241.8 339.08 C242.2 339.23 242.57 339.39 242.95 339.5 C243.33 339.62 243.72 339.8 244.1 339.74 C244.48 339.68 244.87 339.35 245.25 339.13 C245.63 338.9 245.91 338.92 246.4 338.39 C246.89 337.86 247.62 336.88 248.2 335.94 C248.78 335 249.32 333.88 249.9 332.74 C250.48 331.61 251.18 330.8 251.7 329.12 C252.22 327.43 252.52 324.8 253 322.65 C253.48 320.5 254.05 318.35 254.6 316.24 C255.15 314.12 255.85 311.54 256.3 309.95 C256.75 308.36 256.97 307.74 257.3 306.7 C257.63 305.66 257.97 304.74 258.3 303.72 C258.63 302.71 258.97 301.68 259.3 300.61 C259.63 299.55 259.85 298.97 260.3 297.34 C260.75 295.7 261.5 292.9 262 290.81 C262.5 288.73 262.92 286.34 263.3 284.83 C263.68 283.31 263.93 282.7 264.3 281.7 C264.67 280.71 264.98 279.73 265.5 278.85 C266.02 277.97 266.8 276.92 267.4 276.42 C268 275.92 268.62 275.87 269.1 275.86 C269.58 275.86 269.87 276.25 270.25 276.39 C270.63 276.53 270.97 276.56 271.4 276.68 C271.83 276.8 272.37 276.93 272.85 277.13 C273.33 277.32 273.86 277.65 274.3 277.82 C274.74 278 275.08 278.04 275.47 278.18 C275.86 278.33 276.24 278.43 276.63 278.69 C277.02 278.95 277.41 279.52 277.8 279.74 C278.19 279.95 278.58 279.88 278.97 279.97 C279.36 280.07 279.74 280.16 280.13 280.31 C280.52 280.47 280.91 280.92 281.3 280.92 C281.69 280.91 282.08 280.41 282.47 280.27 C282.86 280.13 283.24 280.19 283.63 280.09 C284.02 279.99 284.41 279.85 284.8 279.66 C285.19 279.47 285.58 279.14 285.97 278.96 C286.36 278.77 286.74 278.7 287.13 278.58 C287.52 278.45 287.88 278.29 288.3 278.2 C288.72 278.1 289.2 278.05 289.65 278.02 C290.1 277.99 290.57 278.05 291 278.04 C291.43 278.04 291.83 277.96 292.25 277.98 C292.67 278 293.04 278.15 293.5 278.16 C293.96 278.17 294.47 277.67 295 278.02 C295.53 278.36 296.18 279.32 296.7 280.21 C297.22 281.09 297.58 282.01 298.1 283.33 C298.62 284.64 299.35 286.84 299.8 288.08 C300.25 289.31 300.47 289.84 300.8 290.74 C301.13 291.65 301.47 292.6 301.8 293.5 C302.13 294.41 302.47 295.19 302.8 296.16 C303.13 297.13 303.42 298.13 303.8 299.31 C304.18 300.49 304.67 301.9 305.1 303.25 C305.53 304.6 305.98 306.01 306.4 307.42 C306.82 308.83 307.2 310.32 307.6 311.71 C308 313.1 308.37 314.32 308.8 315.76 C309.23 317.2 309.73 318.89 310.2 320.37 C310.67 321.85 311.07 323.24 311.6 324.64 C312.13 326.04 312.9 327.84 313.4 328.75 C313.9 329.66 314.2 329.77 314.6 330.1 C315 330.43 315.38 330.53 315.8 330.74 C316.23 330.94 316.7 331.14 317.15 331.34 C317.6 331.53 318.11 331.79 318.5 331.91 C318.89 332.04 319.17 332.04 319.5 332.09 C319.83 332.15 320.17 332.16 320.5 332.25 C320.83 332.33 321.14 332.45 321.5 332.61 C321.86 332.77 322.28 332.98 322.67 333.19 C323.06 333.41 323.44 333.72 323.83 333.88 C324.22 334.03 324.61 333.93 325 334.1 C325.39 334.28 325.78 334.72 326.17 334.93 C326.56 335.14 326.94 335.2 327.33 335.37 C327.72 335.55 328.12 335.75 328.5 335.99 C328.88 336.22 329.25 336.58 329.62 336.79 C330 336.99 330.38 337.04 330.75 337.2 C331.12 337.37 331.5 337.58 331.88 337.78 C332.25 337.99 332.63 338.22 333 338.43 C333.37 338.64 333.73 338.88 334.1 339.03 C334.47 339.18 334.83 339.17 335.2 339.32 C335.57 339.47 335.93 339.75 336.3 339.93 C336.67 340.11 337.22 340.32 337.4 340.4" fill="none" stroke="#2c52a0" stroke-width="1.6" stroke-linejoin="round" stroke-linecap="round" />
<path d="M25.2 346 C25.5 345.77 26.45 344.89 27 344.58 C27.55 344.26 28 344.26 28.5 344.13 C29 344 29.5 343.87 30 343.81 C30.5 343.76 31 343.76 31.5 343.79 C32 343.82 32.5 344.03 33 343.98 C33.5 343.92 34 343.62 34.5 343.48 C35 343.34 35.5 343.33 36 343.15 C36.5 342.97 37 342.68 37.5 342.38 C38 342.07 38.5 341.78 39 341.3 C39.5 340.83 40 340.11 40.5 339.52 C41 338.94 41.42 338.84 42 337.78 C42.58 336.71 43.33 335.12 44 333.14 C44.67 331.15 45.33 328.49 46 325.85 C46.67 323.22 47.33 320.16 48 317.35 C48.67 314.54 49.33 311.68 50 308.98 C50.67 306.27 51.33 303.46 52 301.13 C52.67 298.8 53.33 296.93 54 295 C54.67 293.06 55.33 291.17 56 289.53 C56.67 287.89 57.33 286.49 58 285.17 C58.67 283.85 59.33 282.75 60 281.61 C60.67 280.48 61.33 279.43 62 278.36 C62.67 277.28 63.33 276.04 64 275.16 C64.67 274.28 65.33 273.72 66 273.09 C66.67 272.45 67.33 271.79 68 271.36 C68.67 270.94 69.33 270.71 70 270.56 C70.67 270.41 71.33 270.5 72 270.45 C72.67 270.41 73.33 270.26 74 270.29 C74.67 270.31 75.33 270.44 76 270.59 C76.67 270.74 77.33 270.97 78 271.18 C78.67 271.39 79.33 271.66 80 271.86 C80.67 272.06 81.33 272.17 82 272.39 C82.67 272.62 83.33 272.87 84 273.2 C84.67 273.52 85.33 274 86 274.33 C86.67 274.66 87.42 274.81 88 275.16 C88.58 275.52 89 276.05 89.5 276.47 C90 276.9 90.5 277.23 91 277.71 C91.5 278.18 92 278.79 92.5 279.34 C93 279.88 93.42 279.83 94 280.98 C94.58 282.13 95.33 284.36 96 286.23 C96.67 288.1 97.33 290.36 98 292.19 C98.67 294.02 99.33 295.49 100 297.21 C100.67 298.93 101.33 299.99 102 302.52 C102.67 305.05 103.33 309.41 104 312.38 C104.67 315.34 105.33 318 106 320.31 C106.67 322.62 107.33 324.54 108 326.23 C108.67 327.92 109.33 329.27 110 330.45 C110.67 331.63 111.33 332.58 112 333.3 C112.67 334.03 113.5 334.13 114 334.83 C114.5 335.52 114.67 336.68 115 337.49 C115.33 338.31 115.5 338.93 116 339.72 C116.5 340.5 117.33 341.55 118 342.19 C118.67 342.83 119.42 343.21 120 343.54 C120.58 343.88 121 344.01 121.5 344.21 C122 344.4 122.5 344.54 123 344.72 C123.5 344.89 124 345.16 124.5 345.26 C125 345.36 125.5 345.28 126 345.31 C126.5 345.34 127 345.38 127.5 345.45 C128 345.53 128.42 345.75 129 345.77 C129.58 345.79 130.33 345.69 131 345.56 C131.67 345.44 132.4 345.11 133 345.03 C133.6 344.94 134.07 345.01 134.6 345.05 C135.13 345.09 135.71 345.17 136.2 345.26 C136.69 345.35 137.11 345.54 137.57 345.57 C138.02 345.6 138.48 345.44 138.93 345.43 C139.39 345.41 139.69 346.1 140.3 345.48 C140.91 344.86 141.83 342.95 142.6 341.74 C143.37 340.53 144.22 339.33 144.9 338.22 C145.58 337.11 146.18 336.2 146.7 335.08 C147.22 333.95 147.53 332.93 148 331.47 C148.47 330.01 148.93 327.79 149.5 326.33 C150.07 324.86 150.85 324.39 151.4 322.68 C151.95 320.96 152.33 318.15 152.8 316.05 C153.27 313.96 153.67 312.16 154.2 310.12 C154.73 308.08 155.37 305.91 156 303.83 C156.63 301.75 157.37 299.64 158 297.64 C158.63 295.64 159.27 293.41 159.8 291.83 C160.33 290.24 160.75 289.29 161.2 288.15 C161.65 287 162.03 286.02 162.5 284.98 C162.97 283.95 163.42 283 164 281.94 C164.58 280.88 165.33 279.58 166 278.62 C166.67 277.66 167.38 276.91 168 276.17 C168.62 275.43 169.03 274.84 169.7 274.21 C170.37 273.57 171.23 272.82 172 272.35 C172.77 271.89 173.69 271.66 174.3 271.41 C174.91 271.16 175.2 271.02 175.65 270.85 C176.1 270.67 176.44 270.47 177 270.34 C177.56 270.21 178.33 270.07 179 270.06 C179.67 270.06 180.45 270.24 181 270.32 C181.55 270.4 181.87 270.46 182.3 270.53 C182.73 270.6 183.18 270.64 183.6 270.72 C184.02 270.81 184.4 270.89 184.8 271.02 C185.2 271.15 185.42 271.35 186 271.5 C186.58 271.65 187.69 271.65 188.3 271.92 C188.91 272.18 189.2 272.74 189.65 273.1 C190.1 273.46 190.44 273.61 191 274.07 C191.56 274.53 192.43 275.32 193 275.84 C193.57 276.35 193.93 276.68 194.4 277.16 C194.87 277.63 195.33 278.08 195.8 278.7 C196.27 279.32 196.73 280.11 197.2 280.91 C197.67 281.7 198.03 282.01 198.6 283.49 C199.17 284.98 199.93 287.82 200.6 289.82 C201.27 291.82 201.93 293.45 202.6 295.48 C203.27 297.5 203.93 299.34 204.6 301.99 C205.27 304.64 205.93 308.52 206.6 311.37 C207.27 314.23 207.93 316.83 208.6 319.14 C209.27 321.45 209.93 323.66 210.6 325.23 C211.27 326.8 212 327.61 212.6 328.57 C213.2 329.53 213.73 330.29 214.2 331 C214.67 331.71 214.93 332.27 215.4 332.83 C215.87 333.39 216.4 333.8 217 334.36 C217.6 334.92 218.33 335.6 219 336.2 C219.67 336.81 220.33 337.38 221 337.98 C221.67 338.57 222.33 339.23 223 339.79 C223.67 340.35 224.33 340.76 225 341.34 C225.67 341.91 226.33 342.73 227 343.23 C227.67 343.74 228.33 344.06 229 344.38 C229.67 344.7 230.33 344.92 231 345.15 C231.67 345.38 232.47 345.6 233 345.76 C233.53 345.93 233.8 346.03 234.2 346.14 C234.6 346.25 235 346.47 235.4 346.42 C235.8 346.37 236.2 346.05 236.6 345.85 C237 345.65 237.22 345.57 237.8 345.23 C238.38 344.89 239.33 344.17 240.1 343.8 C240.87 343.43 241.63 343.24 242.4 343 C243.17 342.76 243.93 342.58 244.7 342.37 C245.47 342.15 246.32 342.07 247 341.73 C247.68 341.4 248.22 341.05 248.8 340.34 C249.38 339.62 250.05 338.33 250.5 337.45 C250.95 336.57 251.17 335.91 251.5 335.07 C251.83 334.23 252.18 333.41 252.5 332.41 C252.82 331.42 253.07 330.76 253.4 329.1 C253.73 327.43 254.07 324.6 254.5 322.42 C254.93 320.23 255.45 318.08 256 315.98 C256.55 313.89 257.1 311.95 257.8 309.86 C258.5 307.78 259.6 305.05 260.2 303.48 C260.8 301.9 261 301.37 261.4 300.41 C261.8 299.44 262.12 299.22 262.6 297.68 C263.08 296.15 263.8 292.8 264.3 291.19 C264.8 289.58 265.17 289.07 265.6 288.02 C266.03 286.97 266.32 286.19 266.9 284.9 C267.48 283.61 268.49 281.39 269.1 280.29 C269.71 279.18 270.07 278.9 270.55 278.27 C271.03 277.65 271.52 277.1 272 276.54 C272.48 275.99 272.97 275.43 273.45 274.95 C273.93 274.47 274.42 274.05 274.9 273.65 C275.38 273.25 275.87 272.92 276.35 272.54 C276.83 272.16 277.32 271.71 277.8 271.4 C278.28 271.09 278.77 270.88 279.25 270.68 C279.73 270.48 280.22 270.38 280.7 270.2 C281.18 270.02 281.67 269.75 282.15 269.6 C282.63 269.45 283.06 269.33 283.6 269.31 C284.14 269.28 284.82 269.09 285.4 269.44 C285.98 269.78 286.43 270.88 287.1 271.36 C287.77 271.84 288.8 272.05 289.4 272.32 C290 272.58 290.27 272.72 290.7 272.96 C291.13 273.19 291.53 273.46 292 273.72 C292.47 273.99 293 274.24 293.5 274.54 C294 274.85 294.5 275.24 295 275.53 C295.5 275.83 296 276.03 296.5 276.31 C297 276.59 297.42 276.67 298 277.2 C298.58 277.73 299.33 278.42 300 279.46 C300.67 280.51 301.33 281.92 302 283.49 C302.67 285.05 303.33 287.12 304 288.85 C304.67 290.58 305.33 292.16 306 293.86 C306.67 295.55 307.42 297.56 308 299.03 C308.58 300.5 308.98 301.32 309.5 302.69 C310.02 304.07 310.52 305.36 311.1 307.26 C311.68 309.16 312.28 311.16 313 314.09 C313.72 317.02 314.73 322.24 315.4 324.86 C316.07 327.48 316.42 328.35 317 329.82 C317.58 331.28 318.32 332.76 318.9 333.63 C319.47 334.51 319.93 334.6 320.45 335.06 C320.97 335.51 321.48 335.94 322 336.35 C322.52 336.76 323.04 337.11 323.57 337.49 C324.09 337.87 324.61 338.3 325.13 338.62 C325.66 338.95 326.16 339.11 326.7 339.46 C327.24 339.8 327.8 340.32 328.35 340.71 C328.9 341.1 329.52 341.48 330 341.8 C330.48 342.12 330.82 342.38 331.23 342.63 C331.64 342.89 332.06 343.09 332.47 343.32 C332.88 343.55 333.29 343.85 333.7 344.03 C334.11 344.21 334.52 344.24 334.93 344.4 C335.34 344.56 335.76 344.83 336.17 344.99 C336.58 345.15 337.19 345.31 337.4 345.37" fill="none" stroke="#e2621f" stroke-width="1.6" stroke-linejoin="round" stroke-linecap="round" />
<path d="M24.82 346.52 L25.86 346.36 L26.91 346.05 L27.95 345.58 L28.99 344.96 L30.04 344.19 L31.08 343.27 L32.12 342.21 L33.17 341.01 L34.21 339.67 L35.25 338.2 L36.3 336.61 L37.34 334.91 L38.38 333.09 L39.42 331.16 L40.47 329.15 L41.51 327.04 L42.55 324.85 L43.6 322.59 L44.64 320.27 L45.68 317.9 L46.73 315.48 L47.77 313.03 L48.81 310.56 L49.86 308.07 L50.9 305.57 L51.94 303.08 L52.99 300.61 L54.03 298.16 L55.07 295.74 L56.12 293.37 L57.16 291.05 L58.2 288.79 L59.25 286.6 L60.29 284.49 L61.33 282.48 L62.38 280.55 L63.42 278.73 L64.46 277.03 L65.5 275.44 L66.55 273.97 L67.59 272.63 L68.63 271.43 L69.68 270.37 L70.72 269.45 L71.76 268.68 L72.81 268.06 L73.85 267.59 L74.89 267.28 L75.94 267.12 L76.98 267.12 L78.02 267.28 L79.07 267.59 L80.11 268.06 L81.15 268.68 L82.2 269.45 L83.24 270.37 L84.28 271.43 L85.33 272.63 L86.37 273.97 L87.41 275.44 L88.46 277.03 L89.5 278.73 L90.54 280.55 L91.58 282.48 L92.63 284.49 L93.67 286.6 L94.71 288.79 L95.76 291.05 L96.8 293.37 L97.84 295.74 L98.89 298.16 L99.93 300.61 L100.97 303.08 L102.02 305.57 L103.06 308.07 L104.1 310.56 L105.15 313.03 L106.19 315.48 L107.23 317.9 L108.28 320.27 L109.32 322.59 L110.36 324.85 L111.41 327.04 L112.45 329.15 L113.49 331.16 L114.54 333.09 L115.58 334.91 L116.62 336.61 L117.66 338.2 L118.71 339.67 L119.75 341.01 L120.79 342.21 L121.84 343.27 L122.88 344.19 L123.92 344.96 L124.97 345.58 L126.01 346.05 L127.05 346.36 L128.1 346.52 L129.14 346.52 L130.18 346.36 L131.23 346.05 L132.27 345.58 L133.31 344.96 L134.36 344.19 L135.4 343.27 L136.44 342.21 L137.49 341.01 L138.53 339.67 L139.57 338.2 L140.62 336.61 L141.66 334.91 L142.7 333.09 L143.74 331.16 L144.79 329.15 L145.83 327.04 L146.87 324.85 L147.92 322.59 L148.96 320.27 L150 317.9 L151.05 315.48 L152.09 313.03 L153.13 310.56 L154.18 308.07 L155.22 305.57 L156.26 303.08 L157.31 300.61 L158.35 298.16 L159.39 295.74 L160.44 293.37 L161.48 291.05 L162.52 288.79 L163.57 286.6 L164.61 284.49 L165.65 282.48 L166.7 280.55 L167.74 278.73 L168.78 277.03 L169.82 275.44 L170.87 273.97 L171.91 272.63 L172.95 271.43 L174 270.37 L175.04 269.45 L176.08 268.68 L177.13 268.06 L178.17 267.59 L179.21 267.28 L180.26 267.12 L181.3 267.12 L182.34 267.28 L183.39 267.59 L184.43 268.06 L185.47 268.68 L186.52 269.45 L187.56 270.37 L188.6 271.43 L189.65 272.63 L190.69 273.97 L191.73 275.44 L192.78 277.03 L193.82 278.73 L194.86 280.55 L195.9 282.48 L196.95 284.49 L197.99 286.6 L199.03 288.79 L200.08 291.05 L201.12 293.37 L202.16 295.74 L203.21 298.16 L204.25 300.61 L205.29 303.08 L206.34 305.57 L207.38 308.07 L208.42 310.56 L209.47 313.03 L210.51 315.48 L211.55 317.9 L212.6 320.27 L213.64 322.59 L214.68 324.85 L215.73 327.04 L216.77 329.15 L217.81 331.16 L218.86 333.09 L219.9 334.91 L220.94 336.61 L221.98 338.2 L223.03 339.67 L224.07 341.01 L225.11 342.21 L226.16 343.27 L227.2 344.19 L228.24 344.96 L229.29 345.58 L230.33 346.05 L231.37 346.36 L232.42 346.52 L233.46 346.52 L234.5 346.36 L235.55 346.05 L236.59 345.58 L237.63 344.96 L238.68 344.19 L239.72 343.27 L240.76 342.21 L241.81 341.01 L242.85 339.67 L243.89 338.2 L244.94 336.61 L245.98 334.91 L247.02 333.09 L248.06 331.16 L249.11 329.15 L250.15 327.04 L251.19 324.85 L252.24 322.59 L253.28 320.27 L254.32 317.9 L255.37 315.48 L256.41 313.03 L257.45 310.56 L258.5 308.07 L259.54 305.57 L260.58 303.08 L261.63 300.61 L262.67 298.16 L263.71 295.74 L264.76 293.37 L265.8 291.05 L266.84 288.79 L267.89 286.6 L268.93 284.49 L269.97 282.48 L271.02 280.55 L272.06 278.73 L273.1 277.03 L274.14 275.44 L275.19 273.97 L276.23 272.63 L277.27 271.43 L278.32 270.37 L279.36 269.45 L280.4 268.68 L281.45 268.06 L282.49 267.59 L283.53 267.28 L284.58 267.12 L285.62 267.12 L286.66 267.28 L287.71 267.59 L288.75 268.06 L289.79 268.68 L290.84 269.45 L291.88 270.37 L292.92 271.43 L293.97 272.63 L295.01 273.97 L296.05 275.44 L297.1 277.03 L298.14 278.73 L299.18 280.55 L300.22 282.48 L301.27 284.49 L302.31 286.6 L303.35 288.79 L304.4 291.05 L305.44 293.37 L306.48 295.74 L307.53 298.16 L308.57 300.61 L309.61 303.08 L310.66 305.57 L311.7 308.07 L312.74 310.56 L313.79 313.03 L314.83 315.48 L315.87 317.9 L316.92 320.27 L317.96 322.59 L319 324.85 L320.05 327.04 L321.09 329.15 L322.13 331.16 L323.18 333.09 L324.22 334.91 L325.26 336.61 L326.3 338.2 L327.35 339.67 L328.39 341.01 L329.43 342.21 L330.48 343.27 L331.52 344.19 L332.56 344.96 L333.61 345.58 L334.65 346.05 L335.69 346.36 L336.74 346.52 L337.78 346.52" fill="none" stroke="#1a1a1a" stroke-width="1.25" stroke-dasharray="3.8 2.4"/>
<path d="M74.5 284.7 L79.8 291.8 L77.4 291.8 L77.4 339.6 L71.7 339.6 L71.7 291.8 L69.2 291.8 Z" fill="#f20a0a"/>
<text transform="translate(54.30,350.00) scale(0.8238,1)" x="0" y="0" font-family='"Liberation Sans",sans-serif' font-weight="bold" font-size="9.6" letter-spacing="0.350" fill="#e8161e" stroke="#e8161e" stroke-width="0.25">Saturation</text>
<text transform="translate(33.90,360.40) scale(0.8586,1)" x="0" y="0" font-family='"Liberation Sans",sans-serif' font-weight="bold" font-size="9.6" letter-spacing="0.350" fill="#e8161e" stroke="#e8161e" stroke-width="0.25">Due to lack of force</text>
<rect x="251.6" y="343.1" width="73.2" height="21.2" fill="#fff" stroke="#d0d0d0" stroke-width="0.6"/>
<line x1="253.3" y1="347.3" x2="261" y2="347.3" stroke="#2c52a0" stroke-width="1.4"/>
<line x1="253.3" y1="353.9" x2="261" y2="353.9" stroke="#e2621f" stroke-width="1.4"/>
<line x1="253.7" y1="361.1" x2="256.6" y2="361.1" stroke="#222" stroke-width="1.2"/>
<line x1="258.5" y1="361.1" x2="261" y2="361.1" stroke="#222" stroke-width="1.2"/>
<text x="261.90" y="348.90" font-family='"Liberation Sans",sans-serif' font-weight="normal" font-size="5.4" fill="#303030" textLength="60.81" lengthAdjust="spacingAndGlyphs" >McKibben muscle - 7.5kg</text>
<text x="261.90" y="355.90" font-family='"Liberation Sans",sans-serif' font-weight="normal" font-size="5.4" fill="#303030" textLength="44.00" lengthAdjust="spacingAndGlyphs" >SFCC PAM - 10kg</text>
<text x="259.60" y="363.00" font-family='"Liberation Sans",sans-serif' font-weight="normal" font-size="5.4" fill="#303030" textLength="35.30" lengthAdjust="spacingAndGlyphs" >•Desired angle</text>
<line x1="24.82" y1="506.12" x2="337.78" y2="506.12" stroke="#ebebeb" stroke-width="0.6"/>
<line x1="24.82" y1="506.12" x2="27.22" y2="506.12" stroke="#bfbfbf" stroke-width="0.6"/>
<text x="23" y="509.02" font-size="7.6" fill="#3c3c3c" text-anchor="end">-4</text>
<line x1="24.82" y1="486.06" x2="337.78" y2="486.06" stroke="#ebebeb" stroke-width="0.6"/>
<line x1="24.82" y1="486.06" x2="27.22" y2="486.06" stroke="#bfbfbf" stroke-width="0.6"/>
<text x="23" y="488.96" font-size="7.6" fill="#3c3c3c" text-anchor="end">-2</text>
<line x1="24.82" y1="466" x2="337.78" y2="466" stroke="#ebebeb" stroke-width="0.6"/>
<line x1="24.82" y1="466" x2="27.22" y2="466" stroke="#bfbfbf" stroke-width="0.6"/>
<text x="23" y="468.9" font-size="7.6" fill="#3c3c3c" text-anchor="end">0</text>
<line x1="24.82" y1="445.94" x2="337.78" y2="445.94" stroke="#ebebeb" stroke-width="0.6"/>
<line x1="24.82" y1="445.94" x2="27.22" y2="445.94" stroke="#bfbfbf" stroke-width="0.6"/>
<text x="23" y="448.84" font-size="7.6" fill="#3c3c3c" text-anchor="end">2</text>
<line x1="24.82" y1="425.88" x2="337.78" y2="425.88" stroke="#ebebeb" stroke-width="0.6"/>
<line x1="24.82" y1="425.88" x2="27.22" y2="425.88" stroke="#bfbfbf" stroke-width="0.6"/>
<text x="23" y="428.78" font-size="7.6" fill="#3c3c3c" text-anchor="end">4</text>
<line x1="24.82" y1="405.82" x2="337.78" y2="405.82" stroke="#ebebeb" stroke-width="0.6"/>
<line x1="24.82" y1="405.82" x2="27.22" y2="405.82" stroke="#bfbfbf" stroke-width="0.6"/>
<text x="23" y="408.72" font-size="7.6" fill="#3c3c3c" text-anchor="end">6</text>
<line x1="50.9" y1="405.82" x2="50.9" y2="506.12" stroke="#f3f3f3" stroke-width="0.6"/>
<line x1="50.9" y1="506.12" x2="50.9" y2="508.12" stroke="#d8d8d8" stroke-width="0.6"/>
<text x="50.9" y="516.0" font-size="8.3" fill="#3c3c3c" text-anchor="middle">6</text>
<line x1="103.06" y1="405.82" x2="103.06" y2="506.12" stroke="#f3f3f3" stroke-width="0.6"/>
<line x1="103.06" y1="506.12" x2="103.06" y2="508.12" stroke="#d8d8d8" stroke-width="0.6"/>
<text x="103.06" y="516.0" font-size="8.3" fill="#3c3c3c" text-anchor="middle">7</text>
<line x1="155.22" y1="405.82" x2="155.22" y2="506.12" stroke="#f3f3f3" stroke-width="0.6"/>
<line x1="155.22" y1="506.12" x2="155.22" y2="508.12" stroke="#d8d8d8" stroke-width="0.6"/>
<text x="155.22" y="516.0" font-size="8.3" fill="#3c3c3c" text-anchor="middle">8</text>
<line x1="207.38" y1="405.82" x2="207.38" y2="506.12" stroke="#f3f3f3" stroke-width="0.6"/>
<line x1="207.38" y1="506.12" x2="207.38" y2="508.12" stroke="#d8d8d8" stroke-width="0.6"/>
<text x="207.38" y="516.0" font-size="8.3" fill="#3c3c3c" text-anchor="middle">9</text>
<line x1="259.54" y1="405.82" x2="259.54" y2="506.12" stroke="#f3f3f3" stroke-width="0.6"/>
<line x1="259.54" y1="506.12" x2="259.54" y2="508.12" stroke="#d8d8d8" stroke-width="0.6"/>
<text x="259.54" y="516.0" font-size="8.3" fill="#3c3c3c" text-anchor="middle">10</text>
<line x1="311.7" y1="405.82" x2="311.7" y2="506.12" stroke="#f3f3f3" stroke-width="0.6"/>
<line x1="311.7" y1="506.12" x2="311.7" y2="508.12" stroke="#d8d8d8" stroke-width="0.6"/>
<text x="311.7" y="516.0" font-size="8.3" fill="#3c3c3c" text-anchor="middle">11</text>
<line x1="24.82" y1="405.82" x2="24.82" y2="506.12" stroke="#e0e0e0" stroke-width="0.6"/>
<line x1="24.82" y1="506.12" x2="337.78" y2="506.12" stroke="#d0d0d0" stroke-width="0.7"/>
<text x="167.30" y="525.60" font-family='"Liberation Sans",sans-serif' font-weight="normal" font-size="8.6" fill="#3c3c3c" textLength="27.89" lengthAdjust="spacingAndGlyphs" >Time [s]</text>
<text transform="translate(13.5,455.2) rotate(-90)" font-size="8.5" fill="#3c3c3c" text-anchor="middle">Error [degree]</text>
<line x1="24.82" y1="436" x2="335.6" y2="436" stroke="#1a1a1a" stroke-width="1.25" stroke-dasharray="3.6 3.6" stroke-dashoffset="1.2"/>
<line x1="24.82" y1="495.2" x2="335.6" y2="495.2" stroke="#1a1a1a" stroke-width="1.25" stroke-dasharray="3.6 3.6" stroke-dashoffset="1.2"/>
<path d="M25.2 464.92 C25.5 465.45 26.53 467.84 27 468.14 C27.47 468.44 27.67 467.16 28 466.72 C28.33 466.28 28.67 465.81 29 465.48 C29.33 465.15 29.67 465.02 30 464.72 C30.33 464.41 30.67 464.06 31 463.66 C31.33 463.27 31.67 462.89 32 462.35 C32.33 461.81 32.67 461.11 33 460.44 C33.33 459.76 33.67 459.04 34 458.33 C34.33 457.62 34.67 456.9 35 456.18 C35.33 455.46 35.67 454.76 36 454.01 C36.33 453.26 36.67 452.49 37 451.69 C37.33 450.9 37.67 449.94 38 449.25 C38.33 448.57 38.67 448.15 39 447.58 C39.33 447 39.67 446.41 40 445.8 C40.33 445.19 40.67 444.39 41 443.9 C41.33 443.41 41.67 443.21 42 442.87 C42.33 442.54 42.67 442.08 43 441.9 C43.33 441.71 43.67 441.67 44 441.74 C44.33 441.81 44.67 442.07 45 442.34 C45.33 442.61 45.67 442.98 46 443.35 C46.33 443.72 46.67 443.75 47 444.54 C47.33 445.34 47.67 446.89 48 448.11 C48.33 449.32 48.67 450.39 49 451.84 C49.33 453.28 49.67 455.02 50 456.77 C50.33 458.52 50.67 460.67 51 462.34 C51.33 464.02 51.67 465.41 52 466.84 C52.33 468.26 52.67 469.72 53 470.9 C53.33 472.07 53.67 472.86 54 473.88 C54.33 474.89 54.67 476.27 55 476.99 C55.33 477.71 55.67 477.81 56 478.21 C56.33 478.61 56.67 479.23 57 479.36 C57.33 479.5 57.67 479.12 58 479.02 C58.33 478.92 58.67 479.02 59 478.79 C59.33 478.55 59.67 477.93 60 477.6 C60.33 477.26 60.67 477.35 61 476.79 C61.33 476.22 61.67 475.03 62 474.2 C62.33 473.38 62.67 472.72 63 471.85 C63.33 470.98 63.67 469.87 64 468.98 C64.33 468.1 64.67 467.29 65 466.54 C65.33 465.79 65.67 465.09 66 464.46 C66.33 463.82 66.67 463.22 67 462.74 C67.33 462.25 67.67 461.93 68 461.56 C68.33 461.19 68.67 460.89 69 460.5 C69.33 460.11 69.67 459.65 70 459.22 C70.33 458.78 70.67 458.3 71 457.91 C71.33 457.51 71.67 457.12 72 456.82 C72.33 456.53 72.67 456.33 73 456.11 C73.33 455.89 73.67 455.68 74 455.48 C74.33 455.27 74.67 455.13 75 454.88 C75.33 454.63 75.67 454.16 76 453.97 C76.33 453.78 76.67 453.92 77 453.74 C77.33 453.55 77.67 453.01 78 452.87 C78.33 452.73 78.67 452.75 79 452.89 C79.33 453.03 79.67 453.52 80 453.71 C80.33 453.9 80.67 453.69 81 454.01 C81.33 454.33 81.67 455.1 82 455.63 C82.33 456.16 82.67 456.56 83 457.19 C83.33 457.83 83.67 458.75 84 459.43 C84.33 460.11 84.67 460.47 85 461.27 C85.33 462.07 85.67 463.22 86 464.21 C86.33 465.2 86.67 466.22 87 467.23 C87.33 468.24 87.67 469.4 88 470.27 C88.33 471.13 88.67 471.74 89 472.43 C89.33 473.12 89.67 473.82 90 474.4 C90.33 474.98 90.67 475.52 91 475.89 C91.33 476.25 91.67 476.33 92 476.56 C92.33 476.8 92.67 477.39 93 477.27 C93.33 477.16 93.67 476.19 94 475.88 C94.33 475.57 94.67 475.94 95 475.39 C95.33 474.85 95.67 473.47 96 472.61 C96.33 471.75 96.67 471.15 97 470.23 C97.33 469.31 97.67 468.15 98 467.07 C98.33 465.99 98.67 464.74 99 463.74 C99.33 462.74 99.67 462.08 100 461.09 C100.33 460.1 100.67 458.9 101 457.79 C101.33 456.69 101.67 455.53 102 454.46 C102.33 453.4 102.67 452.22 103 451.4 C103.33 450.58 103.67 450.22 104 449.55 C104.33 448.87 104.67 447.96 105 447.37 C105.33 446.78 105.67 446.45 106 445.98 C106.33 445.52 106.67 444.91 107 444.58 C107.33 444.26 107.67 444.22 108 444.01 C108.33 443.79 108.67 443.24 109 443.29 C109.33 443.34 109.67 444.1 110 444.3 C110.33 444.51 110.67 443.96 111 444.5 C111.33 445.04 111.67 446.6 112 447.55 C112.33 448.5 112.67 449.47 113 450.2 C113.33 450.93 113.67 451.2 114 451.92 C114.33 452.65 114.67 453.91 115 454.56 C115.33 455.2 115.67 455.33 116 455.78 C116.33 456.23 116.67 456.84 117 457.24 C117.33 457.64 117.67 457.79 118 458.17 C118.33 458.55 118.67 459.08 119 459.52 C119.33 459.97 119.67 460.34 120 460.84 C120.33 461.33 120.67 462.26 121 462.5 C121.33 462.74 121.67 462.32 122 462.25 C122.33 462.19 122.67 461.92 123 462.12 C123.33 462.32 123.67 463.03 124 463.46 C124.33 463.88 124.67 464.27 125 464.67 C125.33 465.06 125.67 465.41 126 465.83 C126.33 466.24 126.67 466.72 127 467.16 C127.33 467.6 127.67 468.15 128 468.45 C128.33 468.75 128.67 469.04 129 468.97 C129.33 468.91 129.67 468.5 130 468.06 C130.33 467.62 130.67 467.07 131 466.35 C131.33 465.63 131.67 464.6 132 463.76 C132.33 462.92 132.67 462.18 133 461.31 C133.33 460.43 133.67 459.39 134 458.51 C134.33 457.63 134.67 456.81 135 456.02 C135.33 455.23 135.67 454.59 136 453.77 C136.33 452.96 136.67 451.94 137 451.13 C137.33 450.32 137.67 449.65 138 448.89 C138.33 448.13 138.67 447.23 139 446.58 C139.33 445.93 139.67 445.55 140 445 C140.33 444.45 140.67 443.84 141 443.26 C141.33 442.69 141.67 442.05 142 441.53 C142.33 441.01 142.67 440.63 143 440.13 C143.33 439.63 143.67 438.93 144 438.53 C144.33 438.13 144.67 437.52 145 437.74 C145.33 437.96 145.67 439.1 146 439.87 C146.33 440.64 146.67 441.44 147 442.35 C147.33 443.26 147.67 444.37 148 445.34 C148.33 446.31 148.67 447.15 149 448.17 C149.33 449.2 149.67 450.27 150 451.48 C150.33 452.69 150.67 454.66 151 455.46 C151.33 456.26 151.67 455.89 152 456.28 C152.33 456.66 152.67 457.04 153 457.78 C153.33 458.53 153.67 459.76 154 460.76 C154.33 461.76 154.67 462.72 155 463.78 C155.33 464.83 155.67 466.01 156 467.09 C156.33 468.18 156.67 469.47 157 470.29 C157.33 471.1 157.67 471.32 158 472.01 C158.33 472.69 158.67 473.88 159 474.39 C159.33 474.91 159.67 474.79 160 475.08 C160.33 475.37 160.67 476.01 161 476.13 C161.33 476.26 161.67 475.94 162 475.84 C162.33 475.73 162.67 475.7 163 475.5 C163.33 475.3 163.67 474.93 164 474.65 C164.33 474.37 164.67 474.15 165 473.82 C165.33 473.5 165.67 473.18 166 472.69 C166.33 472.21 166.67 471.52 167 470.9 C167.33 470.28 167.67 469.52 168 468.98 C168.33 468.44 168.67 468.22 169 467.64 C169.33 467.06 169.67 466.28 170 465.5 C170.33 464.72 170.67 463.78 171 462.97 C171.33 462.16 171.67 461.38 172 460.63 C172.33 459.89 172.67 459.05 173 458.52 C173.33 457.98 173.67 457.74 174 457.4 C174.33 457.07 174.67 456.8 175 456.51 C175.33 456.21 175.67 455.9 176 455.65 C176.33 455.41 176.67 455.29 177 455.04 C177.33 454.8 177.67 454.46 178 454.21 C178.33 453.95 178.67 453.77 179 453.54 C179.33 453.31 179.67 453.11 180 452.83 C180.33 452.55 180.67 451.97 181 451.85 C181.33 451.73 181.67 451.98 182 452.1 C182.33 452.21 182.67 452.25 183 452.55 C183.33 452.85 183.67 453.48 184 453.91 C184.33 454.34 184.67 454.56 185 455.13 C185.33 455.69 185.67 456.6 186 457.3 C186.33 458 186.67 458.54 187 459.34 C187.33 460.13 187.67 461.11 188 462.07 C188.33 463.02 188.67 464.23 189 465.08 C189.33 465.93 189.67 466.36 190 467.18 C190.33 468 190.67 469.16 191 470 C191.33 470.84 191.67 471.48 192 472.23 C192.33 472.98 192.67 474.05 193 474.52 C193.33 474.98 193.67 474.79 194 475.03 C194.33 475.27 194.67 475.88 195 475.96 C195.33 476.04 195.67 475.64 196 475.5 C196.33 475.36 196.67 475.49 197 475.14 C197.33 474.79 197.67 473.95 198 473.42 C198.33 472.89 198.67 472.72 199 471.97 C199.33 471.22 199.67 469.92 200 468.91 C200.33 467.9 200.67 467.16 201 465.92 C201.33 464.68 201.67 462.86 202 461.46 C202.33 460.06 202.67 458.68 203 457.52 C203.33 456.36 203.67 455.57 204 454.53 C204.33 453.48 204.67 452.24 205 451.24 C205.33 450.23 205.67 449.35 206 448.48 C206.33 447.62 206.67 446.83 207 446.05 C207.33 445.28 207.67 444.48 208 443.83 C208.33 443.19 208.67 442.73 209 442.2 C209.33 441.67 209.67 441.21 210 440.66 C210.33 440.11 210.67 439.47 211 438.9 C211.33 438.32 211.67 437.53 212 437.21 C212.33 436.89 212.67 437.14 213 436.98 C213.33 436.82 213.67 436.19 214 436.25 C214.33 436.3 214.67 436.94 215 437.32 C215.33 437.69 215.67 437.68 216 438.49 C216.33 439.31 216.67 440.99 217 442.21 C217.33 443.43 217.67 444.53 218 445.81 C218.33 447.08 218.67 448.56 219 449.86 C219.33 451.17 219.67 452.65 220 453.63 C220.33 454.61 220.67 455.02 221 455.74 C221.33 456.46 221.67 457.25 222 457.96 C222.33 458.66 222.67 459.26 223 459.97 C223.33 460.69 223.67 461.55 224 462.23 C224.33 462.91 224.67 463.33 225 464.07 C225.33 464.81 225.67 466.08 226 466.67 C226.33 467.26 226.67 467.19 227 467.64 C227.33 468.09 227.67 469.16 228 469.35 C228.33 469.54 228.67 468.98 229 468.79 C229.33 468.59 229.67 468.45 230 468.18 C230.33 467.91 230.67 467.48 231 467.18 C231.33 466.87 231.67 466.48 232 466.35 C232.33 466.22 232.67 466.43 233 466.42 C233.33 466.4 233.67 466.39 234 466.29 C234.33 466.18 234.67 465.92 235 465.77 C235.33 465.61 235.67 465.43 236 465.34 C236.33 465.25 236.67 465.3 237 465.21 C237.33 465.13 237.67 465.03 238 464.85 C238.33 464.67 238.67 464.37 239 464.13 C239.33 463.9 239.67 463.61 240 463.43 C240.33 463.26 240.67 463.11 241 463.06 C241.33 463.01 241.67 463.04 242 463.16 C242.33 463.28 242.67 463.95 243 463.78 C243.33 463.61 243.67 462.64 244 462.13 C244.33 461.61 244.67 461.38 245 460.68 C245.33 459.97 245.67 458.76 246 457.89 C246.33 457.01 246.67 456.39 247 455.43 C247.33 454.47 247.67 453.22 248 452.14 C248.33 451.05 248.67 449.98 249 448.94 C249.33 447.9 249.67 446.84 250 445.9 C250.33 444.95 250.67 444.02 251 443.28 C251.33 442.53 251.67 442.05 252 441.42 C252.33 440.79 252.67 439.87 253 439.48 C253.33 439.1 253.67 439.16 254 439.11 C254.33 439.07 254.67 438.99 255 439.2 C255.33 439.41 255.67 440.01 256 440.35 C256.33 440.7 256.67 440.54 257 441.25 C257.33 441.97 257.67 443.46 258 444.65 C258.33 445.85 258.67 446.88 259 448.4 C259.33 449.92 259.67 452.07 260 453.76 C260.33 455.44 260.67 456.78 261 458.54 C261.33 460.3 261.67 462.34 262 464.32 C262.33 466.3 262.67 468.8 263 470.4 C263.33 472.01 263.67 472.75 264 473.95 C264.33 475.15 264.67 477.24 265 477.61 C265.33 477.98 265.67 476.54 266 476.17 C266.33 475.8 266.67 475.73 267 475.38 C267.33 475.02 267.67 474.51 268 474.04 C268.33 473.58 268.67 473.09 269 472.6 C269.33 472.12 269.67 471.51 270 471.12 C270.33 470.74 270.67 470.78 271 470.28 C271.33 469.78 271.67 468.74 272 468.14 C272.33 467.54 272.67 467.21 273 466.69 C273.33 466.18 273.67 465.53 274 465.04 C274.33 464.55 274.67 463.97 275 463.73 C275.33 463.49 275.67 463.75 276 463.61 C276.33 463.46 276.67 463.03 277 462.88 C277.33 462.72 277.67 462.85 278 462.67 C278.33 462.49 278.67 462.16 279 461.8 C279.33 461.44 279.67 460.91 280 460.51 C280.33 460.12 280.67 459.81 281 459.43 C281.33 459.06 281.67 458.64 282 458.25 C282.33 457.86 282.67 457.24 283 457.1 C283.33 456.96 283.67 457.42 284 457.42 C284.33 457.42 284.67 457.22 285 457.09 C285.33 456.96 285.67 456.83 286 456.64 C286.33 456.44 286.67 456.12 287 455.93 C287.33 455.74 287.67 455.79 288 455.48 C288.33 455.18 288.67 454.25 289 454.09 C289.33 453.92 289.67 454.34 290 454.48 C290.33 454.62 290.67 454.68 291 454.94 C291.33 455.2 291.67 455.65 292 456.04 C292.33 456.42 292.67 456.61 293 457.24 C293.33 457.87 293.67 458.98 294 459.83 C294.33 460.68 294.67 461.39 295 462.34 C295.33 463.29 295.67 464.51 296 465.55 C296.33 466.59 296.67 467.68 297 468.56 C297.33 469.43 297.67 470.01 298 470.8 C298.33 471.59 298.67 472.6 299 473.31 C299.33 474.02 299.67 474.57 300 475.06 C300.33 475.55 300.67 475.97 301 476.25 C301.33 476.52 301.67 476.79 302 476.72 C302.33 476.65 302.67 476.23 303 475.85 C303.33 475.47 303.67 475.12 304 474.43 C304.33 473.73 304.67 472.6 305 471.67 C305.33 470.75 305.67 470.07 306 468.9 C306.33 467.73 306.67 466.07 307 464.65 C307.33 463.24 307.67 461.76 308 460.4 C308.33 459.05 308.67 457.83 309 456.52 C309.33 455.2 309.67 453.53 310 452.51 C310.33 451.49 310.67 451.23 311 450.37 C311.33 449.52 311.67 448.12 312 447.37 C312.33 446.63 312.67 446.54 313 445.88 C313.33 445.22 313.67 443.96 314 443.42 C314.33 442.89 314.67 442.89 315 442.66 C315.33 442.44 315.67 442.12 316 442.09 C316.33 442.06 316.67 442.4 317 442.49 C317.33 442.59 317.67 442.46 318 442.66 C318.33 442.86 318.67 443.26 319 443.68 C319.33 444.1 319.67 444.47 320 445.18 C320.33 445.9 320.67 446.98 321 447.97 C321.33 448.97 321.67 450.29 322 451.15 C322.33 452.02 322.67 452.4 323 453.17 C323.33 453.93 323.67 454.9 324 455.72 C324.33 456.54 324.67 457.44 325 458.09 C325.33 458.74 325.67 458.98 326 459.62 C326.33 460.25 326.67 461.13 327 461.9 C327.33 462.66 327.67 463.6 328 464.19 C328.33 464.77 328.67 465.07 329 465.41 C329.33 465.75 329.67 466.02 330 466.22 C330.33 466.43 330.67 466.49 331 466.62 C331.33 466.76 331.67 466.68 332 467.04 C332.33 467.39 332.67 468.33 333 468.75 C333.33 469.17 333.58 469.64 334 469.55 C334.42 469.47 335.07 468.52 335.5 468.25 C335.93 467.98 336.2 468.11 336.55 467.94 C336.9 467.76 337.43 467.33 337.6 467.2" fill="none" stroke="#e2621f" stroke-width="1.6" stroke-linejoin="round" stroke-linecap="round" />
<path d="M25.2 435.06 C25.5 435.57 26.53 437.41 27 438.07 C27.47 438.74 27.67 438.72 28 439.04 C28.33 439.36 28.67 439.59 29 439.99 C29.33 440.39 29.67 441.09 30 441.43 C30.33 441.77 30.67 441.81 31 442.06 C31.33 442.3 31.67 442.64 32 442.9 C32.33 443.16 32.67 443.19 33 443.6 C33.33 444.01 33.67 444.83 34 445.35 C34.33 445.88 34.67 446.4 35 446.75 C35.33 447.1 35.67 447.18 36 447.48 C36.33 447.78 36.67 448.45 37 448.57 C37.33 448.68 37.67 448.19 38 448.16 C38.33 448.14 38.67 448.55 39 448.44 C39.33 448.34 39.67 447.81 40 447.54 C40.33 447.26 40.67 447.26 41 446.77 C41.33 446.29 41.67 445.4 42 444.62 C42.33 443.85 42.67 443.07 43 442.13 C43.33 441.19 43.67 440.01 44 439 C44.33 437.99 44.67 437.19 45 436.06 C45.33 434.92 45.67 433.45 46 432.2 C46.33 430.95 46.67 429.68 47 428.56 C47.33 427.43 47.67 426.36 48 425.46 C48.33 424.56 48.67 423.78 49 423.18 C49.33 422.58 49.67 422.27 50 421.84 C50.33 421.41 50.67 420.73 51 420.59 C51.33 420.46 51.67 420.89 52 421.01 C52.33 421.14 52.67 420.97 53 421.36 C53.33 421.76 53.67 422.69 54 423.4 C54.33 424.1 54.67 424.57 55 425.59 C55.33 426.61 55.67 428.17 56 429.52 C56.33 430.86 56.67 432.18 57 433.67 C57.33 435.16 57.67 436.77 58 438.45 C58.33 440.12 58.67 441.92 59 443.72 C59.33 445.52 59.67 447.51 60 449.25 C60.33 450.99 60.67 452.63 61 454.15 C61.33 455.67 61.67 456.96 62 458.39 C62.33 459.82 62.67 461.44 63 462.72 C63.33 464 63.67 465.04 64 466.08 C64.33 467.13 64.67 468.15 65 469 C65.33 469.84 65.67 470.5 66 471.14 C66.33 471.78 66.67 472.61 67 472.83 C67.33 473.05 67.67 472.65 68 472.44 C68.33 472.23 68.67 471.67 69 471.56 C69.33 471.44 69.67 471.67 70 471.75 C70.33 471.83 70.67 472.02 71 472.06 C71.33 472.1 71.67 472.04 72 472 C72.33 471.96 72.67 471.77 73 471.83 C73.33 471.88 73.67 472.15 74 472.32 C74.33 472.49 74.67 472.55 75 472.84 C75.33 473.13 75.67 473.64 76 474.05 C76.33 474.46 76.67 474.85 77 475.27 C77.33 475.7 77.67 476.16 78 476.6 C78.33 477.05 78.67 477.5 79 477.95 C79.33 478.4 79.67 478.88 80 479.31 C80.33 479.73 80.67 480.28 81 480.5 C81.33 480.72 81.67 480.46 82 480.62 C82.33 480.79 82.67 482.02 83 481.5 C83.33 480.99 83.67 478.77 84 477.53 C84.33 476.28 84.67 475.62 85 474.04 C85.33 472.46 85.67 469.97 86 468.02 C86.33 466.07 86.67 463.85 87 462.34 C87.33 460.83 87.67 460.04 88 458.97 C88.33 457.9 88.67 456.74 89 455.95 C89.33 455.15 89.67 454.79 90 454.2 C90.33 453.6 90.67 452.69 91 452.39 C91.33 452.09 91.67 452.49 92 452.38 C92.33 452.27 92.67 451.66 93 451.75 C93.33 451.83 93.67 452.48 94 452.9 C94.33 453.31 94.67 453.45 95 454.24 C95.33 455.03 95.67 456.62 96 457.65 C96.33 458.67 96.67 459.25 97 460.4 C97.33 461.56 97.67 463.11 98 464.59 C98.33 466.07 98.67 467.79 99 469.29 C99.33 470.78 99.67 472.07 100 473.54 C100.33 475.01 100.67 476.84 101 478.09 C101.33 479.35 101.67 479.95 102 481.06 C102.33 482.18 102.67 483.7 103 484.78 C103.33 485.87 103.67 486.69 104 487.59 C104.33 488.49 104.67 489.47 105 490.2 C105.33 490.94 105.67 491.5 106 492 C106.33 492.5 106.58 492.86 107 493.22 C107.42 493.59 108 494.32 108.5 494.18 C109 494.03 109.58 493.02 110 492.37 C110.42 491.72 110.67 490.9 111 490.26 C111.33 489.63 111.67 489.49 112 488.58 C112.33 487.68 112.67 486.02 113 484.85 C113.33 483.68 113.67 483.03 114 481.56 C114.33 480.09 114.67 477.76 115 476.02 C115.33 474.28 115.67 472.92 116 471.12 C116.33 469.32 116.67 467.16 117 465.22 C117.33 463.28 117.67 461.16 118 459.46 C118.33 457.75 118.67 456.5 119 454.97 C119.33 453.44 119.67 451.78 120 450.27 C120.33 448.75 120.67 447.2 121 445.86 C121.33 444.53 121.67 443.36 122 442.26 C122.33 441.15 122.67 440.28 123 439.22 C123.33 438.17 123.67 436.76 124 435.93 C124.33 435.11 124.67 434.86 125 434.27 C125.33 433.68 125.67 432.69 126 432.38 C126.33 432.08 126.67 432.41 127 432.42 C127.33 432.43 127.67 432.3 128 432.45 C128.33 432.61 128.67 433.09 129 433.36 C129.33 433.63 129.67 433.76 130 434.09 C130.33 434.42 130.67 434.89 131 435.32 C131.33 435.76 131.67 436.16 132 436.71 C132.33 437.25 132.67 437.96 133 438.6 C133.33 439.23 133.67 439.87 134 440.51 C134.33 441.14 134.67 441.71 135 442.41 C135.33 443.11 135.67 444.1 136 444.69 C136.33 445.27 136.67 445.44 137 445.92 C137.33 446.4 137.67 447.03 138 447.58 C138.33 448.12 138.67 448.67 139 449.18 C139.33 449.69 139.67 450.54 140 450.64 C140.33 450.73 140.67 450.03 141 449.76 C141.33 449.49 141.67 449.5 142 449.04 C142.33 448.57 142.67 447.67 143 446.98 C143.33 446.29 143.58 446.09 144 444.88 C144.42 443.68 145 441.25 145.5 439.75 C146 438.26 146.58 437.07 147 435.9 C147.42 434.73 147.67 433.86 148 432.72 C148.33 431.58 148.67 430.03 149 429.05 C149.33 428.06 149.67 427.55 150 426.82 C150.33 426.09 150.67 425.19 151 424.68 C151.33 424.18 151.67 424.2 152 423.77 C152.33 423.34 152.67 422.49 153 422.09 C153.33 421.68 153.67 421.19 154 421.34 C154.33 421.49 154.67 422.4 155 422.96 C155.33 423.53 155.67 424.05 156 424.75 C156.33 425.45 156.67 426.39 157 427.17 C157.33 427.94 157.67 428.43 158 429.4 C158.33 430.36 158.67 431.73 159 432.97 C159.33 434.2 159.67 435.47 160 436.82 C160.33 438.16 160.67 439.74 161 441.04 C161.33 442.34 161.67 443.39 162 444.62 C162.33 445.85 162.67 447.03 163 448.4 C163.33 449.77 163.67 451.57 164 452.84 C164.33 454.12 164.67 454.9 165 456.05 C165.33 457.21 165.67 458.78 166 459.79 C166.33 460.81 166.67 461.27 167 462.14 C167.33 463.02 167.67 464.3 168 465.03 C168.33 465.76 168.67 466.02 169 466.53 C169.33 467.04 169.67 467.71 170 468.1 C170.33 468.49 170.67 468.54 171 468.86 C171.33 469.18 171.67 469.69 172 470.03 C172.33 470.38 172.67 470.62 173 470.93 C173.33 471.25 173.67 471.57 174 471.95 C174.33 472.32 174.67 472.65 175 473.2 C175.33 473.76 175.67 474.74 176 475.27 C176.33 475.81 176.67 476 177 476.42 C177.33 476.84 177.67 477.49 178 477.8 C178.33 478.11 178.67 478.08 179 478.29 C179.33 478.5 179.67 478.82 180 479.07 C180.33 479.32 180.67 479.55 181 479.81 C181.33 480.08 181.67 480.55 182 480.66 C182.33 480.76 182.67 480.41 183 480.47 C183.33 480.52 183.67 480.99 184 480.99 C184.33 481 184.67 480.67 185 480.48 C185.33 480.3 185.67 480.13 186 479.88 C186.33 479.63 186.67 479.2 187 478.97 C187.33 478.73 187.67 478.84 188 478.48 C188.33 478.11 188.67 477.41 189 476.77 C189.33 476.12 189.67 475.71 190 474.59 C190.33 473.46 190.67 471.52 191 469.99 C191.33 468.46 191.67 466.69 192 465.43 C192.33 464.18 192.67 463.59 193 462.46 C193.33 461.32 193.67 459.65 194 458.63 C194.33 457.61 194.67 457.19 195 456.34 C195.33 455.5 195.67 454.21 196 453.57 C196.33 452.94 196.67 452.97 197 452.54 C197.33 452.12 197.67 451.15 198 451 C198.33 450.84 198.67 451.53 199 451.62 C199.33 451.71 199.67 451.24 200 451.53 C200.33 451.83 200.67 452.75 201 453.39 C201.33 454.04 201.67 454.49 202 455.41 C202.33 456.33 202.67 457.8 203 458.9 C203.33 460 203.58 460.35 204 462.01 C204.42 463.67 205 466.01 205.5 468.83 C206 471.65 206.58 476.41 207 478.94 C207.42 481.47 207.67 482.35 208 484.01 C208.33 485.68 208.66 487.64 209 488.93 C209.34 490.22 209.7 490.75 210.05 491.72 C210.4 492.69 210.61 494.85 211.1 494.75 C211.59 494.65 212.48 492.24 213 491.13 C213.52 490.03 213.8 489.24 214.2 488.14 C214.6 487.04 215.03 485.81 215.4 484.52 C215.78 483.24 216.1 481.83 216.45 480.44 C216.8 479.04 217.13 477.66 217.5 476.15 C217.87 474.65 218.27 472.85 218.65 471.42 C219.03 470 219.41 469.18 219.8 467.6 C220.19 466.02 220.58 463.71 220.97 461.94 C221.36 460.17 221.74 458.69 222.13 456.99 C222.52 455.29 222.92 453.37 223.3 451.73 C223.68 450.09 224.06 448.71 224.43 447.14 C224.81 445.57 225.19 443.88 225.57 442.32 C225.94 440.75 226.32 438.84 226.7 437.75 C227.08 436.67 227.48 436.49 227.87 435.82 C228.26 435.14 228.64 434.36 229.03 433.69 C229.42 433.02 229.79 432.13 230.2 431.8 C230.61 431.46 231.07 431.69 231.5 431.67 C231.93 431.65 232.37 431.49 232.8 431.66 C233.23 431.84 233.67 432.26 234.1 432.71 C234.53 433.17 234.97 433.6 235.4 434.37 C235.83 435.14 236.27 436.37 236.7 437.34 C237.13 438.32 237.56 439.05 238 440.24 C238.44 441.44 238.9 443.14 239.35 444.51 C239.8 445.88 240.29 447.75 240.7 448.47 C241.11 449.19 241.46 448.71 241.83 448.84 C242.21 448.97 242.59 449.05 242.97 449.24 C243.34 449.43 243.69 449.76 244.1 449.98 C244.51 450.21 244.97 450.37 245.4 450.61 C245.83 450.86 246.18 452.02 246.7 451.48 C247.22 450.93 248.03 448.8 248.5 447.36 C248.97 445.91 249.2 444.25 249.55 442.81 C249.9 441.36 250.24 440.07 250.6 438.67 C250.96 437.26 251.33 435.85 251.7 434.36 C252.07 432.87 252.4 430.87 252.8 429.72 C253.2 428.58 253.67 428.34 254.1 427.48 C254.53 426.62 254.97 425.01 255.4 424.55 C255.83 424.08 256.27 424.7 256.7 424.69 C257.13 424.68 257.56 424.41 258 424.47 C258.44 424.52 258.9 424.85 259.35 425.01 C259.8 425.17 260.26 424.88 260.7 425.43 C261.14 425.98 261.57 427.4 262 428.3 C262.43 429.2 262.8 429.2 263.3 430.83 C263.8 432.45 264.55 436.36 265 438.07 C265.45 439.78 265.67 439.92 266 441.08 C266.33 442.24 266.67 443.62 267 445.01 C267.33 446.41 267.67 448.01 268 449.45 C268.33 450.89 268.67 452.21 269 453.64 C269.33 455.07 269.67 456.64 270 458.04 C270.33 459.44 270.67 460.7 271 462.02 C271.33 463.33 271.67 464.76 272 465.94 C272.33 467.12 272.67 468.09 273 469.1 C273.33 470.1 273.67 471.06 274 471.97 C274.33 472.88 274.67 473.9 275 474.55 C275.33 475.2 275.67 475.28 276 475.85 C276.33 476.42 276.67 477.45 277 477.97 C277.33 478.49 277.67 478.73 278 478.96 C278.33 479.19 278.67 479.18 279 479.34 C279.33 479.5 279.67 479.71 280 479.91 C280.33 480.11 280.67 480.46 281 480.55 C281.33 480.65 281.67 480.38 282 480.5 C282.33 480.61 282.67 481.23 283 481.24 C283.33 481.25 283.67 480.67 284 480.56 C284.33 480.46 284.67 480.79 285 480.59 C285.33 480.38 285.67 479.65 286 479.34 C286.33 479.02 286.67 478.98 287 478.7 C287.33 478.42 287.67 478.11 288 477.65 C288.33 477.19 288.67 476.5 289 475.92 C289.33 475.35 289.67 474.76 290 474.21 C290.33 473.65 290.67 473.18 291 472.6 C291.33 472.03 291.67 471.37 292 470.74 C292.33 470.11 292.67 469.56 293 468.82 C293.33 468.08 293.67 467.16 294 466.31 C294.33 465.46 294.67 464.49 295 463.7 C295.33 462.91 295.67 462.38 296 461.56 C296.33 460.75 296.67 459.54 297 458.81 C297.33 458.08 297.67 457.82 298 457.19 C298.33 456.55 298.67 455.52 299 455 C299.33 454.48 299.67 454.51 300 454.07 C300.33 453.63 300.67 452.69 301 452.37 C301.33 452.04 301.67 451.89 302 452.12 C302.33 452.35 302.67 453.23 303 453.73 C303.33 454.23 303.67 454.43 304 455.12 C304.33 455.8 304.67 457 305 457.82 C305.33 458.64 305.67 459 306 460.03 C306.33 461.07 306.67 462.68 307 464.05 C307.33 465.41 307.67 466.86 308 468.23 C308.33 469.6 308.67 470.75 309 472.26 C309.33 473.77 309.67 475.83 310 477.3 C310.33 478.76 310.67 479.8 311 481.08 C311.33 482.35 311.67 483.75 312 484.94 C312.33 486.12 312.67 487.19 313 488.18 C313.33 489.17 313.67 489.96 314 490.86 C314.33 491.76 314.67 492.8 315 493.59 C315.33 494.39 315.58 495.14 316 495.65 C316.42 496.15 317 496.61 317.5 496.62 C318 496.62 318.5 496.47 319 495.66 C319.5 494.85 320 493.81 320.5 491.77 C321 489.72 321.58 485.56 322 483.41 C322.42 481.25 322.67 480.49 323 478.85 C323.33 477.2 323.67 475.29 324 473.53 C324.33 471.77 324.67 470.17 325 468.29 C325.33 466.41 325.67 464.18 326 462.25 C326.33 460.33 326.67 458.58 327 456.73 C327.33 454.89 327.67 452.9 328 451.19 C328.33 449.48 328.67 447.98 329 446.45 C329.33 444.92 329.67 443.25 330 442 C330.33 440.75 330.67 439.95 331 438.94 C331.33 437.92 331.58 437.09 332 435.9 C332.42 434.71 333 432.76 333.5 431.82 C334 430.89 334.53 430.46 335 430.29 C335.47 430.12 335.87 430.71 336.3 430.82 C336.73 430.93 337.38 430.94 337.6 430.96" fill="none" stroke="#2c52a0" stroke-width="1.6" stroke-linejoin="round" stroke-linecap="round" />
<text transform="translate(47.70,417.30) scale(0.8657,1)" x="0" y="0" font-family='"Liberation Sans",sans-serif' font-weight="bold" font-size="9.4" letter-spacing="0.350" fill="#141414" stroke="#141414" stroke-width="0.15">Control bandwidth</text>
<text x="72.70" y="428.30" font-family='"Liberation Sans",sans-serif' font-weight="bold" font-size="9.1" fill="#141414" textLength="29.29" lengthAdjust="spacingAndGlyphs" stroke="#141414" stroke-width="0.15">± 3 dB</text>
<line x1="85.7" y1="440.5" x2="85.7" y2="490.7" stroke="#1a1a1a" stroke-width="0.8"/>
<path d="M85.7 438.4 L83.8 441.6 L87.6 441.6 Z M85.7 492.8 L83.8 489.6 L87.6 489.6 Z" fill="#1a1a1a"/>
<text x="152.40" y="546.50" font-family='"Liberation Serif",serif' font-weight="bold" font-size="10" fill="#141414" textLength="12.52" lengthAdjust="spacingAndGlyphs" >(b)</text>
</svg>
</body></html>
